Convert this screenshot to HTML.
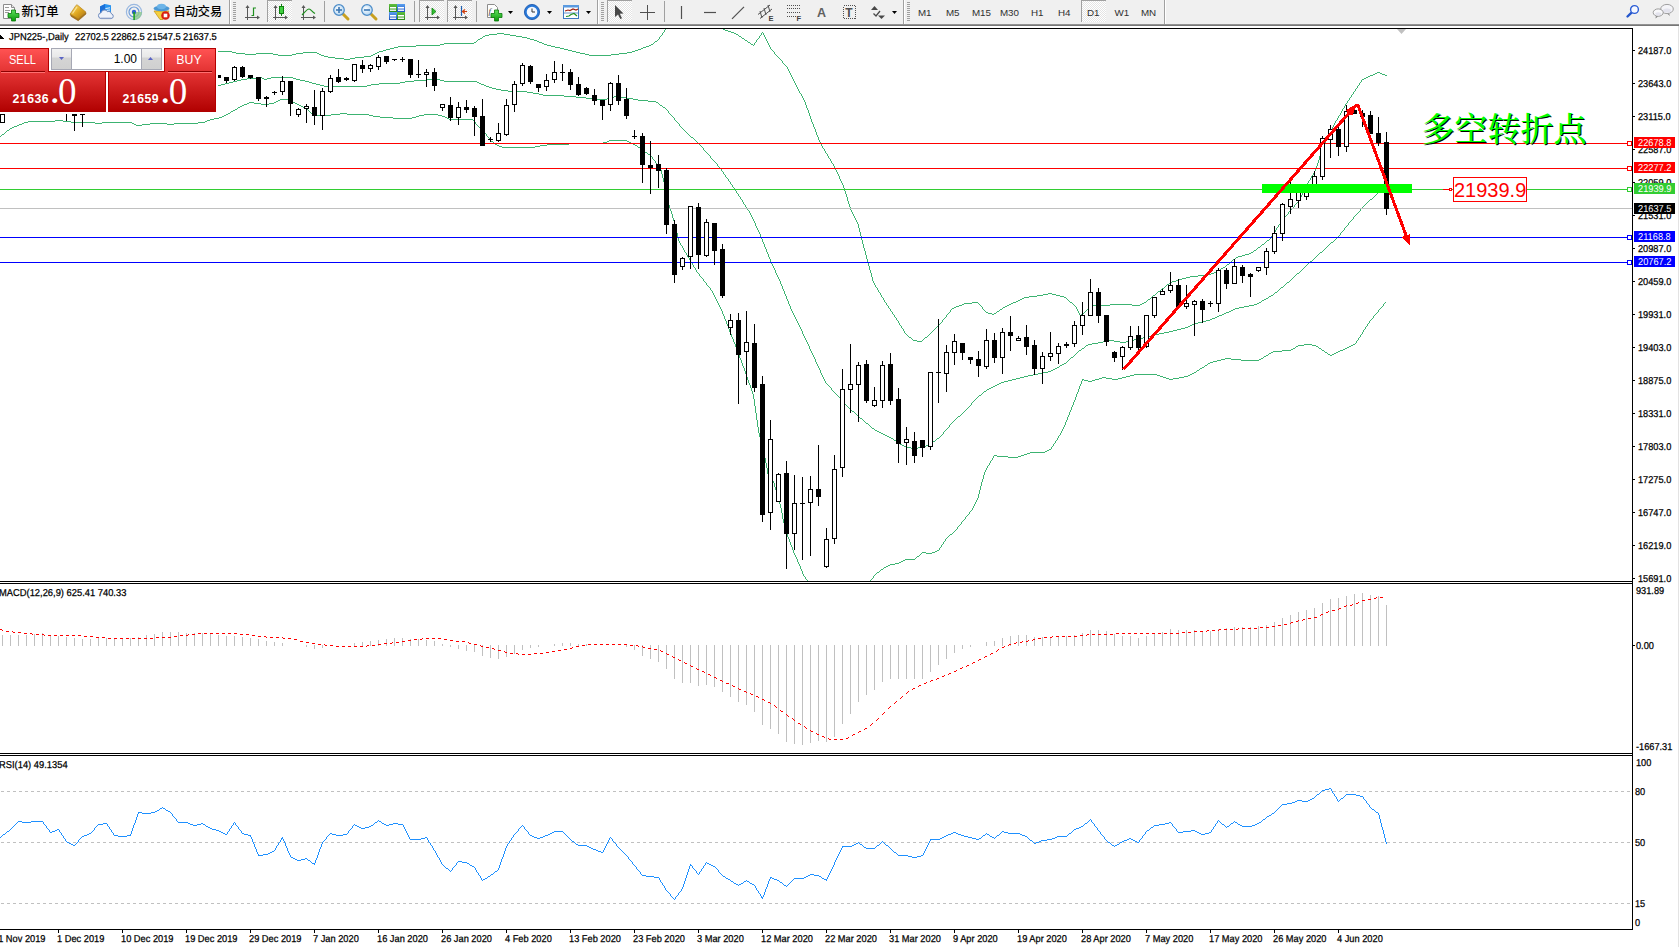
<!DOCTYPE html><html><head><meta charset="utf-8"><title>JPN225-,Daily</title><style>
html,body{margin:0;padding:0;background:#fff;}
body{width:1679px;height:947px;overflow:hidden;position:relative;font-family:"Liberation Sans","Noto Sans CJK SC",sans-serif;}
#tb{position:absolute;left:0;top:0;width:1679px;height:26px;background:#f0f0f0;}
#tb .ln{position:absolute;left:0;top:24px;width:1679px;height:2px;background:linear-gradient(#a0a0a0,#696969);}
.t{position:absolute;white-space:nowrap;font-size:10px;line-height:12px;color:#000;transform:scaleX(0.935);transform-origin:0 0;text-rendering:geometricPrecision;-webkit-text-stroke:0.25px #000;}
.ax{position:absolute;white-space:nowrap;font-size:10px;line-height:12px;height:12px;color:#000;letter-spacing:0px;transform:scaleX(0.92);transform-origin:0 0;text-rendering:geometricPrecision;-webkit-text-stroke:0.25px #000;}
.tag{position:absolute;left:1634px;width:41px;height:11px;color:#fff;font-size:10px;line-height:12px;white-space:nowrap;overflow:hidden;text-rendering:geometricPrecision;}
.tag span{position:absolute;left:4px;top:1px;display:block;transform:scaleX(0.925);transform-origin:0 0;}
.tf{position:absolute;top:5px;font-size:10.5px;line-height:14px;color:#3c3c3c;white-space:nowrap;}
.cn{position:absolute;top:2px;font-size:12px;line-height:16px;color:#000;white-space:nowrap;font-family:"Liberation Sans","WenQuanYi Zen Hei","Noto Sans CJK SC",sans-serif;}
.sep{position:absolute;top:1px;width:1px;height:21px;background:#a0a0a0;}
.grip{position:absolute;top:2px;width:3px;height:19px;background:repeating-linear-gradient(#a8a8a8 0,#a8a8a8 1px,transparent 1px,transparent 2px);}
.pb{position:absolute;top:0;height:22px;width:25px;background:#f8f8f8;border-left:1px solid #a0a0a0;border-top:1px solid #a0a0a0;box-sizing:border-box;}
</style></head><body>
<svg width="1679" height="947" viewBox="0 0 1679 947" style="position:absolute;left:0;top:0" shape-rendering="crispEdges">
<defs><clipPath id="cm"><rect x="0" y="29" width="1632" height="552"/></clipPath><clipPath id="c2"><rect x="0" y="584" width="1632" height="169"/></clipPath><clipPath id="c3"><rect x="0" y="756" width="1632" height="173"/></clipPath></defs>
<rect x="0" y="26" width="1678" height="921" fill="#fff"/>
<rect x="0" y="28" width="1633" height="1" fill="#000"/>
<rect x="1632" y="28" width="1" height="902" fill="#000"/>
<rect x="0" y="581" width="1633" height="1" fill="#000"/><rect x="0" y="583" width="1633" height="1" fill="#000"/>
<rect x="0" y="753" width="1633" height="1" fill="#000"/><rect x="0" y="755" width="1633" height="1" fill="#000"/>
<rect x="0" y="929" width="1633" height="1" fill="#000"/>
<rect x="1678" y="26" width="1" height="921" fill="#e3e3e3"/>
<path d="M0 52h110v1h-110zM232 52h4v1h-4zM303 52h14v1h-14zM377 52h2v1h-2zM576 52h4v1h-4zM627 52h5v1h-5zM110 51h122v1h-122zM379 51h4v1h-4zM572 51h4v1h-4zM632 51h3v1h-3zM236 53h9v1h-9zM256 53h17v1h-17zM296 53h7v1h-7zM317 53h2v1h-2zM375 53h2v1h-2zM580 53h5v1h-5zM619 53h8v1h-8zM245 54h11v1h-11zM273 54h5v1h-5zM292 54h4v1h-4zM319 54h2v1h-2zM373 54h2v1h-2zM585 54h4v1h-4zM611 54h8v1h-8zM278 55h14v1h-14zM321 55h3v1h-3zM371 55h2v1h-2zM589 55h22v1h-22zM324 56h4v1h-4zM364 56h7v1h-7zM328 57h7v1h-7zM355 57h9v1h-9zM335 58h9v1h-9zM350 58h5v1h-5zM344 59h6v1h-6zM383 50h3v1h-3zM568 50h4v1h-4zM635 50h3v1h-3zM386 49h4v1h-4zM564 49h4v1h-4zM638 49h3v1h-3zM390 48h4v1h-4zM560 48h4v1h-4zM641 48h2v1h-2zM394 47h4v1h-4zM555 47h5v1h-5zM643 47h3v1h-3zM398 46h18v1h-18zM551 46h4v1h-4zM646 46h3v1h-3zM416 45h24v1h-24zM547 45h4v1h-4zM649 45h2v1h-2zM440 44h4v1h-4zM544 44h3v1h-3zM651 44h2v1h-2zM751 44h2v1h-2zM444 43h30v1h-30zM542 43h2v1h-2zM474 42h2v1h-2zM539 42h3v1h-3zM748 42h2v1h-2zM537 41h2v1h-2zM655 41h2v1h-2zM534 40h3v1h-3zM745 40h2v1h-2zM478 39h2v1h-2zM530 39h4v1h-4zM480 38h2v1h-2zM527 38h3v1h-3zM742 38h2v1h-2zM522 37h5v1h-5zM483 36h2v1h-2zM516 36h6v1h-6zM739 36h2v1h-2zM485 35h4v1h-4zM510 35h6v1h-6zM489 34h8v1h-8zM504 34h6v1h-6zM736 34h2v1h-2zM497 33h7v1h-7zM734 33h2v1h-2zM731 32h3v1h-3zM728 31h3v1h-3zM725 30h3v1h-3zM723 29h2v1h-2zM1377 72h3v1h-3zM1375 73h2v1h-2zM1380 73h2v1h-2zM1373 74h2v1h-2zM1382 74h3v1h-3zM1370 75h3v1h-3zM1385 75h2v1h-2zM1368 76h2v1h-2zM256 77h6v1h-6zM271 77h22v1h-22zM1366 77h2v1h-2zM247 78h9v1h-9zM262 78h2v1h-2zM267 78h4v1h-4zM293 78h3v1h-3zM1364 78h2v1h-2zM241 79h6v1h-6zM264 79h3v1h-3zM296 79h4v1h-4zM426 79h14v1h-14zM1362 79h2v1h-2zM237 80h4v1h-4zM300 80h5v1h-5zM414 80h12v1h-12zM440 80h4v1h-4zM233 81h4v1h-4zM305 81h4v1h-4zM405 81h9v1h-9zM444 81h33v1h-33zM229 82h4v1h-4zM309 82h3v1h-3zM400 82h5v1h-5zM477 82h2v1h-2zM225 83h4v1h-4zM312 83h4v1h-4zM379 83h21v1h-21zM479 83h2v1h-2zM221 84h4v1h-4zM316 84h4v1h-4zM371 84h8v1h-8zM481 84h3v1h-3zM203 85h18v1h-18zM320 85h4v1h-4zM367 85h4v1h-4zM484 85h2v1h-2zM172 86h31v1h-31zM324 86h43v1h-43zM486 86h3v1h-3zM141 87h31v1h-31zM489 87h3v1h-3zM110 88h31v1h-31zM492 88h4v1h-4zM78 89h32v1h-32zM496 89h5v1h-5zM47 90h31v1h-31zM501 90h7v1h-7zM16 91h31v1h-31zM508 91h19v1h-19zM0 92h16v1h-16zM527 92h6v1h-6zM533 93h6v1h-6zM539 94h4v1h-4zM543 95h21v1h-21zM564 96h12v1h-12zM614 96h5v1h-5zM576 97h10v1h-10zM611 97h3v1h-3zM619 97h7v1h-7zM586 98h6v1h-6zM607 98h4v1h-4zM626 98h7v1h-7zM280 99h8v1h-8zM592 99h15v1h-15zM633 99h5v1h-5zM278 100h2v1h-2zM288 100h3v1h-3zM638 100h10v1h-10zM276 101h2v1h-2zM291 101h2v1h-2zM648 101h8v1h-8zM249 102h5v1h-5zM274 102h2v1h-2zM293 102h2v1h-2zM656 102h2v1h-2zM247 103h2v1h-2zM254 103h7v1h-7zM269 103h5v1h-5zM295 103h2v1h-2zM244 104h3v1h-3zM261 104h8v1h-8zM297 104h2v1h-2zM242 105h2v1h-2zM299 105h2v1h-2zM660 105h2v1h-2zM240 106h2v1h-2zM301 106h2v1h-2zM238 107h2v1h-2zM303 107h2v1h-2zM663 107h2v1h-2zM305 108h2v1h-2zM235 109h2v1h-2zM233 110h2v1h-2zM231 111h2v1h-2zM228 113h2v1h-2zM340 113h7v1h-7zM226 114h2v1h-2zM331 114h9v1h-9zM347 114h22v1h-22zM424 114h14v1h-14zM224 115h2v1h-2zM313 115h18v1h-18zM369 115h4v1h-4zM419 115h5v1h-5zM438 115h4v1h-4zM222 116h2v1h-2zM373 116h7v1h-7zM416 116h3v1h-3zM442 116h3v1h-3zM219 117h3v1h-3zM380 117h13v1h-13zM412 117h4v1h-4zM445 117h2v1h-2zM214 118h5v1h-5zM393 118h19v1h-19zM447 118h2v1h-2zM210 119h4v1h-4zM449 119h24v1h-24zM55 120h8v1h-8zM207 120h3v1h-3zM28 121h27v1h-27zM63 121h8v1h-8zM205 121h2v1h-2zM24 122h4v1h-4zM71 122h24v1h-24zM102 122h30v1h-30zM198 122h7v1h-7zM22 123h2v1h-2zM95 123h7v1h-7zM132 123h2v1h-2zM150 123h17v1h-17zM174 123h24v1h-24zM19 124h3v1h-3zM134 124h2v1h-2zM142 124h8v1h-8zM167 124h7v1h-7zM17 125h2v1h-2zM136 125h6v1h-6zM14 126h3v1h-3zM12 127h2v1h-2zM10 128h2v1h-2zM7 130h2v1h-2zM2 134h2v1h-2zM691 137h2v1h-2zM609 140h18v1h-18zM491 141h2v1h-2zM607 141h2v1h-2zM627 141h2v1h-2zM603 142h4v1h-4zM629 142h2v1h-2zM569 143h34v1h-34zM631 143h2v1h-2zM495 144h2v1h-2zM547 144h22v1h-22zM633 144h2v1h-2zM497 145h2v1h-2zM540 145h7v1h-7zM635 145h2v1h-2zM499 146h3v1h-3zM535 146h5v1h-5zM502 147h33v1h-33zM638 147h2v1h-2zM641 149h2v1h-2zM645 152h2v1h-2zM648 154h2v1h-2zM1383 188h2v1h-2zM1379 191h2v1h-2zM1370 199h2v1h-2zM1267 240h2v1h-2zM1331 242h2v1h-2zM1262 244h2v1h-2zM1258 247h2v1h-2zM1254 250h2v1h-2zM1251 252h2v1h-2zM1320 252h2v1h-2zM1249 253h2v1h-2zM1245 254h4v1h-4zM1242 255h3v1h-3zM1238 256h4v1h-4zM1236 257h2v1h-2zM1233 259h2v1h-2zM1310 261h2v1h-2zM1227 264h2v1h-2zM1223 267h2v1h-2zM1221 268h2v1h-2zM1218 270h2v1h-2zM1216 271h2v1h-2zM1214 272h2v1h-2zM1211 273h3v1h-3zM1297 273h2v1h-2zM1206 274h5v1h-5zM1198 275h8v1h-8zM1190 276h8v1h-8zM1186 277h4v1h-4zM1182 278h4v1h-4zM1179 279h3v1h-3zM1176 280h3v1h-3zM1172 281h4v1h-4zM1170 282h2v1h-2zM1287 282h2v1h-2zM1167 284h2v1h-2zM1281 287h2v1h-2zM1162 288h2v1h-2zM1158 291h2v1h-2zM1275 292h2v1h-2zM1048 293h4v1h-4zM1043 294h5v1h-5zM1052 294h4v1h-4zM1037 295h6v1h-6zM1056 295h4v1h-4zM1153 295h2v1h-2zM1271 295h2v1h-2zM1029 296h8v1h-8zM1060 296h4v1h-4zM1269 296h2v1h-2zM1024 297h5v1h-5zM1064 297h2v1h-2zM1022 298h2v1h-2zM1266 298h2v1h-2zM1020 299h2v1h-2zM1148 299h2v1h-2zM1264 299h2v1h-2zM1018 300h2v1h-2zM1262 300h2v1h-2zM1016 301h2v1h-2zM972 302h6v1h-6zM1013 302h3v1h-3zM1070 302h2v1h-2zM1144 302h2v1h-2zM1259 302h2v1h-2zM964 303h8v1h-8zM1011 303h2v1h-2zM1142 303h2v1h-2zM1257 303h2v1h-2zM962 304h2v1h-2zM1009 304h2v1h-2zM1110 304h22v1h-22zM1140 304h2v1h-2zM1254 304h3v1h-3zM959 305h3v1h-3zM1007 305h2v1h-2zM1093 305h17v1h-17zM1132 305h8v1h-8zM1249 305h5v1h-5zM956 306h3v1h-3zM1005 306h2v1h-2zM1091 306h2v1h-2zM1244 306h5v1h-5zM954 307h2v1h-2zM1003 307h2v1h-2zM1239 307h5v1h-5zM952 308h2v1h-2zM1235 308h4v1h-4zM1000 309h2v1h-2zM1087 309h2v1h-2zM1233 309h2v1h-2zM1231 310h2v1h-2zM997 311h2v1h-2zM1229 311h2v1h-2zM986 312h2v1h-2zM1226 312h3v1h-3zM988 313h4v1h-4zM994 313h2v1h-2zM1082 313h2v1h-2zM1224 313h2v1h-2zM992 314h2v1h-2zM1222 314h2v1h-2zM1219 315h3v1h-3zM1217 316h2v1h-2zM1215 317h2v1h-2zM1212 318h3v1h-3zM1210 319h2v1h-2zM1206 320h4v1h-4zM1202 321h4v1h-4zM1198 322h4v1h-4zM1194 323h4v1h-4zM1192 324h2v1h-2zM1190 325h2v1h-2zM1188 326h2v1h-2zM1185 327h3v1h-3zM1181 328h4v1h-4zM1177 329h4v1h-4zM1173 330h4v1h-4zM1169 331h4v1h-4zM1164 332h5v1h-5zM1159 333h5v1h-5zM1155 334h4v1h-4zM1151 335h4v1h-4zM1147 336h4v1h-4zM909 337h2v1h-2zM925 337h2v1h-2zM1143 337h4v1h-4zM1139 338h4v1h-4zM1134 339h5v1h-5zM913 340h4v1h-4zM1109 340h5v1h-5zM1130 340h4v1h-4zM917 341h5v1h-5zM1103 341h6v1h-6zM1114 341h6v1h-6zM1126 341h4v1h-4zM1098 342h5v1h-5zM1120 342h6v1h-6zM1092 343h6v1h-6zM1088 344h4v1h-4zM1304 344h8v1h-8zM1353 344h2v1h-2zM1086 345h2v1h-2zM1298 345h6v1h-6zM1312 345h4v1h-4zM1351 345h2v1h-2zM1296 346h2v1h-2zM1316 346h2v1h-2zM1349 346h2v1h-2zM1347 347h2v1h-2zM1082 348h2v1h-2zM1293 348h2v1h-2zM1319 348h2v1h-2zM1345 348h2v1h-2zM1291 349h2v1h-2zM1343 349h2v1h-2zM1079 350h2v1h-2zM1282 350h9v1h-9zM1322 350h2v1h-2zM1340 350h3v1h-3zM1273 351h9v1h-9zM1338 351h2v1h-2zM1271 352h2v1h-2zM1325 352h2v1h-2zM1336 352h2v1h-2zM1269 353h2v1h-2zM1334 353h2v1h-2zM1328 354h2v1h-2zM1332 354h2v1h-2zM1266 355h2v1h-2zM1330 355h2v1h-2zM1264 356h2v1h-2zM1071 357h2v1h-2zM1225 358h6v1h-6zM1261 358h2v1h-2zM1221 359h4v1h-4zM1231 359h10v1h-10zM1259 359h2v1h-2zM1217 360h4v1h-4zM1241 360h18v1h-18zM1213 361h4v1h-4zM1210 362h3v1h-3zM1064 363h2v1h-2zM1208 363h2v1h-2zM1062 364h2v1h-2zM1060 365h2v1h-2zM1205 365h2v1h-2zM1057 367h2v1h-2zM1202 367h2v1h-2zM1055 368h2v1h-2zM1200 368h2v1h-2zM1053 369h2v1h-2zM1051 370h2v1h-2zM1197 370h2v1h-2zM1048 371h3v1h-3zM1043 372h5v1h-5zM1194 372h2v1h-2zM1038 373h5v1h-5zM1192 373h2v1h-2zM1033 374h5v1h-5zM1134 374h23v1h-23zM1190 374h2v1h-2zM1028 375h5v1h-5zM1130 375h4v1h-4zM1157 375h3v1h-3zM1188 375h2v1h-2zM1024 376h4v1h-4zM1126 376h4v1h-4zM1160 376h3v1h-3zM1184 376h4v1h-4zM1020 377h4v1h-4zM1102 377h4v1h-4zM1122 377h4v1h-4zM1163 377h3v1h-3zM1179 377h5v1h-5zM1016 378h4v1h-4zM1099 378h3v1h-3zM1106 378h6v1h-6zM1118 378h4v1h-4zM1166 378h3v1h-3zM1173 378h6v1h-6zM1012 379h4v1h-4zM1082 379h2v1h-2zM1095 379h4v1h-4zM1112 379h6v1h-6zM1169 379h4v1h-4zM1008 380h4v1h-4zM1084 380h4v1h-4zM1092 380h3v1h-3zM1004 381h4v1h-4zM1088 381h4v1h-4zM1001 382h3v1h-3zM999 383h2v1h-2zM997 384h2v1h-2zM995 385h2v1h-2zM993 386h2v1h-2zM991 387h2v1h-2zM989 388h2v1h-2zM987 389h2v1h-2zM984 391h2v1h-2zM979 395h2v1h-2zM852 411h2v1h-2zM958 416h2v1h-2zM860 418h2v1h-2zM866 423h2v1h-2zM872 428h2v1h-2zM875 430h2v1h-2zM877 431h2v1h-2zM879 432h2v1h-2zM881 433h2v1h-2zM883 434h2v1h-2zM885 435h2v1h-2zM887 436h2v1h-2zM889 437h2v1h-2zM891 438h2v1h-2zM937 438h2v1h-2zM894 440h2v1h-2zM933 441h2v1h-2zM897 442h2v1h-2zM930 443h2v1h-2zM900 444h2v1h-2zM928 444h2v1h-2zM902 445h2v1h-2zM926 445h2v1h-2zM904 446h3v1h-3zM924 446h2v1h-2zM907 447h4v1h-4zM918 447h6v1h-6zM911 448h7v1h-7zM1049 449h2v1h-2zM1047 450h2v1h-2zM1045 451h2v1h-2zM1030 452h15v1h-15zM1027 453h3v1h-3zM1024 454h3v1h-3zM994 455h3v1h-3zM1021 455h3v1h-3zM997 456h11v1h-11zM1018 456h3v1h-3zM1008 457h10v1h-10zM950 534h2v1h-2zM937 550h2v1h-2zM935 551h2v1h-2zM922 552h4v1h-4zM932 552h3v1h-3zM926 553h6v1h-6zM917 556h2v1h-2zM905 559h10v1h-10zM903 560h2v1h-2zM901 561h2v1h-2zM899 562h2v1h-2zM895 563h4v1h-4zM890 564h5v1h-5zM888 565h2v1h-2zM886 566h2v1h-2zM884 567h2v1h-2zM881 569h2v1h-2zM877 572h2v1h-2zM774 52h1v2h-1zM774 268h1v2h-1zM774 483h1v4h-1zM773 51h1v1h-1zM773 266h1v2h-1zM773 481h1v2h-1zM775 54h1v1h-1zM775 270h1v3h-1zM775 487h1v3h-1zM776 55h1v1h-1zM776 273h1v2h-1zM776 490h1v3h-1zM777 56h1v1h-1zM777 275h1v2h-1zM777 493h1v4h-1zM778 57h1v1h-1zM778 277h1v2h-1zM778 497h1v3h-1zM779 58h1v1h-1zM779 279h1v2h-1zM779 500h1v4h-1zM780 59h1v1h-1zM780 281h1v3h-1zM780 504h1v4h-1zM772 50h1v1h-1zM772 264h1v2h-1zM772 480h1v1h-1zM771 49h1v1h-1zM771 262h1v2h-1zM771 479h1v1h-1zM770 47h1v2h-1zM770 259h1v3h-1zM770 478h1v1h-1zM769 45h1v2h-1zM769 257h1v2h-1zM769 477h1v1h-1zM753 45h1v1h-1zM753 219h1v2h-1zM753 394h1v5h-1zM754 43h1v2h-1zM754 221h1v2h-1zM754 399h1v7h-1zM768 43h1v2h-1zM768 254h1v3h-1zM768 474h1v3h-1zM653 43h1v1h-1zM653 159h1v1h-1zM750 43h1v1h-1zM750 213h1v2h-1zM750 385h1v3h-1zM654 42h1v1h-1zM654 160h1v1h-1zM755 42h1v1h-1zM755 223h1v3h-1zM755 406h1v7h-1zM767 41h1v2h-1zM767 252h1v2h-1zM767 468h1v6h-1zM476 41h1v1h-1zM476 124h1v1h-1zM747 41h1v1h-1zM747 208h1v2h-1zM747 377h1v3h-1zM756 40h1v2h-1zM756 226h1v2h-1zM756 413h1v7h-1zM477 40h1v1h-1zM477 125h1v1h-1zM657 40h1v1h-1zM657 164h1v1h-1zM766 39h1v2h-1zM766 249h1v3h-1zM766 463h1v5h-1zM658 39h1v1h-1zM658 103h1v1h-1zM658 165h1v2h-1zM744 39h1v1h-1zM744 204h1v1h-1zM744 368h1v3h-1zM757 39h1v1h-1zM757 228h1v2h-1zM757 420h1v7h-1zM659 37h1v2h-1zM659 104h1v1h-1zM659 167h1v1h-1zM758 38h1v1h-1zM758 230h1v2h-1zM758 427h1v6h-1zM765 37h1v2h-1zM765 247h1v2h-1zM765 458h1v5h-1zM482 37h1v1h-1zM482 130h1v1h-1zM741 37h1v1h-1zM741 199h1v1h-1zM741 360h1v3h-1zM759 36h1v2h-1zM759 232h1v2h-1zM759 433h1v4h-1zM660 36h1v1h-1zM660 168h1v2h-1zM764 35h1v2h-1zM764 244h1v3h-1zM764 454h1v4h-1zM661 35h1v1h-1zM661 170h1v4h-1zM738 35h1v1h-1zM738 194h1v2h-1zM738 352h1v3h-1zM760 35h1v1h-1zM760 234h1v3h-1zM760 437h1v4h-1zM662 33h1v2h-1zM662 106h1v1h-1zM662 174h1v4h-1zM761 33h1v2h-1zM761 237h1v2h-1zM761 441h1v4h-1zM763 33h1v2h-1zM763 242h1v2h-1zM763 450h1v4h-1zM663 32h1v1h-1zM663 178h1v4h-1zM762 32h1v1h-1zM762 239h1v3h-1zM762 445h1v5h-1zM664 30h1v2h-1zM664 182h1v4h-1zM665 29h1v1h-1zM665 108h1v1h-1zM665 186h1v5h-1zM781 60h1v1h-1zM781 284h1v2h-1zM781 508h1v5h-1zM782 61h1v2h-1zM782 286h1v3h-1zM782 513h1v6h-1zM783 63h1v1h-1zM783 289h1v2h-1zM783 519h1v4h-1zM784 64h1v1h-1zM784 291h1v3h-1zM784 523h1v4h-1zM785 65h1v1h-1zM785 294h1v2h-1zM785 527h1v3h-1zM786 66h1v1h-1zM786 296h1v3h-1zM786 530h1v4h-1zM787 67h1v2h-1zM787 299h1v2h-1zM787 534h1v3h-1zM788 69h1v2h-1zM788 301h1v3h-1zM788 537h1v2h-1zM789 71h1v2h-1zM789 304h1v2h-1zM789 539h1v3h-1zM790 73h1v2h-1zM790 306h1v3h-1zM790 542h1v3h-1zM791 75h1v2h-1zM791 309h1v2h-1zM791 545h1v2h-1zM792 77h1v2h-1zM792 311h1v2h-1zM792 547h1v3h-1zM793 79h1v2h-1zM793 313h1v2h-1zM793 550h1v3h-1zM1361 80h1v2h-1zM1361 208h1v1h-1zM1361 334h1v1h-1zM794 81h1v2h-1zM794 315h1v2h-1zM794 553h1v2h-1zM1360 82h1v1h-1zM1360 209h1v2h-1zM1360 335h1v2h-1zM795 83h1v2h-1zM795 317h1v2h-1zM795 555h1v2h-1zM1359 83h1v2h-1zM1359 211h1v1h-1zM1359 337h1v1h-1zM796 85h1v2h-1zM796 319h1v2h-1zM796 557h1v2h-1zM1358 85h1v1h-1zM1358 212h1v1h-1zM1358 338h1v2h-1zM1357 86h1v2h-1zM1357 213h1v1h-1zM1357 340h1v1h-1zM797 87h1v2h-1zM797 321h1v2h-1zM797 559h1v3h-1zM1356 88h1v1h-1zM1356 214h1v1h-1zM1356 341h1v2h-1zM798 89h1v2h-1zM798 323h1v2h-1zM798 562h1v2h-1zM1355 89h1v2h-1zM1355 215h1v1h-1zM1355 343h1v1h-1zM799 91h1v2h-1zM799 325h1v2h-1zM799 564h1v2h-1zM1354 91h1v1h-1zM1354 216h1v1h-1zM1353 92h1v2h-1zM1353 217h1v2h-1zM800 93h1v1h-1zM800 327h1v2h-1zM800 566h1v3h-1zM801 94h1v2h-1zM801 329h1v2h-1zM801 569h1v2h-1zM1352 94h1v1h-1zM1352 219h1v1h-1zM1351 95h1v2h-1zM1351 220h1v1h-1zM802 96h1v2h-1zM802 331h1v3h-1zM802 571h1v3h-1zM1350 97h1v1h-1zM1350 221h1v1h-1zM803 98h1v2h-1zM803 334h1v2h-1zM803 574h1v2h-1zM1349 98h1v2h-1zM1349 222h1v1h-1zM804 100h1v2h-1zM804 336h1v2h-1zM804 576h1v1h-1zM1348 100h1v1h-1zM1348 223h1v2h-1zM1347 101h1v2h-1zM1347 225h1v1h-1zM805 102h1v3h-1zM805 338h1v2h-1zM805 577h1v2h-1zM1346 103h1v1h-1zM1346 226h1v1h-1zM1345 104h1v2h-1zM1345 227h1v1h-1zM806 105h1v3h-1zM806 340h1v2h-1zM806 579h1v1h-1zM1344 106h1v2h-1zM1344 228h1v2h-1zM237 108h1v1h-1zM807 108h1v2h-1zM807 342h1v2h-1zM807 580h1v1h-1zM1343 108h1v1h-1zM1343 230h1v1h-1zM307 109h1v1h-1zM666 109h1v1h-1zM666 191h1v5h-1zM1342 109h1v2h-1zM1342 231h1v1h-1zM308 110h1v1h-1zM667 110h1v1h-1zM667 196h1v5h-1zM808 110h1v3h-1zM808 344h1v2h-1zM309 111h1v1h-1zM668 111h1v2h-1zM668 201h1v4h-1zM1341 111h1v2h-1zM1341 232h1v1h-1zM230 112h1v1h-1zM310 112h1v1h-1zM311 113h1v1h-1zM669 113h1v1h-1zM669 205h1v3h-1zM809 113h1v3h-1zM809 346h1v3h-1zM1340 113h1v2h-1zM1340 233h1v2h-1zM312 114h1v1h-1zM670 114h1v1h-1zM670 208h1v3h-1zM671 115h1v1h-1zM671 211h1v3h-1zM1339 115h1v1h-1zM1339 235h1v1h-1zM672 116h1v1h-1zM672 214h1v4h-1zM810 116h1v3h-1zM810 349h1v2h-1zM1338 116h1v2h-1zM1338 236h1v1h-1zM673 117h1v1h-1zM673 218h1v3h-1zM674 118h1v2h-1zM674 221h1v3h-1zM1337 118h1v2h-1zM1337 237h1v1h-1zM811 119h1v3h-1zM811 351h1v2h-1zM473 120h1v1h-1zM675 120h1v1h-1zM675 224h1v4h-1zM1336 120h1v1h-1zM1336 238h1v1h-1zM474 121h1v1h-1zM676 121h1v1h-1zM676 228h1v5h-1zM1335 121h1v2h-1zM1335 239h1v1h-1zM475 122h1v2h-1zM677 122h1v1h-1zM677 233h1v5h-1zM812 122h1v2h-1zM812 353h1v2h-1zM678 123h1v1h-1zM678 238h1v3h-1zM1334 123h1v2h-1zM1334 240h1v1h-1zM679 124h1v2h-1zM679 241h1v2h-1zM813 124h1v3h-1zM813 355h1v2h-1zM1333 125h1v2h-1zM1333 241h1v1h-1zM478 126h1v1h-1zM680 126h1v1h-1zM680 243h1v2h-1zM479 127h1v1h-1zM681 127h1v1h-1zM681 245h1v1h-1zM814 127h1v2h-1zM814 357h1v2h-1zM1332 127h1v2h-1zM480 128h1v1h-1zM682 128h1v1h-1zM682 246h1v2h-1zM9 129h1v1h-1zM481 129h1v1h-1zM683 129h1v1h-1zM683 248h1v2h-1zM815 129h1v3h-1zM815 359h1v3h-1zM1331 129h1v2h-1zM684 130h1v1h-1zM684 250h1v2h-1zM6 131h1v1h-1zM483 131h1v1h-1zM685 131h1v1h-1zM685 252h1v1h-1zM1330 131h1v2h-1zM1330 243h1v1h-1zM5 132h1v1h-1zM484 132h1v1h-1zM686 132h1v1h-1zM686 253h1v2h-1zM816 132h1v3h-1zM816 362h1v2h-1zM4 133h1v1h-1zM485 133h1v1h-1zM687 133h1v1h-1zM687 255h1v2h-1zM1329 133h1v2h-1zM1329 244h1v1h-1zM486 134h1v2h-1zM688 134h1v1h-1zM688 257h1v1h-1zM1 135h1v1h-1zM689 135h1v1h-1zM689 258h1v2h-1zM817 135h1v2h-1zM817 364h1v2h-1zM1328 135h1v2h-1zM1328 245h1v1h-1zM0 136h1v1h-1zM487 136h1v1h-1zM690 136h1v1h-1zM690 260h1v2h-1zM488 137h1v1h-1zM818 137h1v3h-1zM818 366h1v2h-1zM1327 137h1v2h-1zM1327 246h1v1h-1zM1327 353h1v1h-1zM489 138h1v2h-1zM693 138h1v1h-1zM693 265h1v2h-1zM694 139h1v1h-1zM694 267h1v1h-1zM1326 139h1v2h-1zM1326 247h1v1h-1zM490 140h1v1h-1zM695 140h1v1h-1zM695 268h1v2h-1zM819 140h1v2h-1zM819 368h1v2h-1zM696 141h1v1h-1zM696 270h1v2h-1zM1325 141h1v2h-1zM1325 248h1v1h-1zM493 142h1v1h-1zM697 142h1v1h-1zM697 272h1v1h-1zM820 142h1v2h-1zM820 370h1v3h-1zM494 143h1v1h-1zM698 143h1v1h-1zM698 273h1v1h-1zM1324 143h1v2h-1zM1324 249h1v1h-1zM1324 351h1v1h-1zM699 144h1v1h-1zM699 274h1v2h-1zM821 144h1v2h-1zM821 373h1v2h-1zM700 145h1v1h-1zM700 276h1v1h-1zM1323 145h1v2h-1zM1323 250h1v1h-1zM637 146h1v1h-1zM701 146h1v1h-1zM701 277h1v1h-1zM822 146h1v2h-1zM822 375h1v2h-1zM702 147h1v1h-1zM702 278h1v1h-1zM1322 147h1v3h-1zM1322 251h1v1h-1zM640 148h1v1h-1zM703 148h1v2h-1zM703 279h1v2h-1zM823 148h1v1h-1zM823 377h1v2h-1zM824 149h1v2h-1zM824 379h1v2h-1zM643 150h1v1h-1zM704 150h1v1h-1zM704 281h1v1h-1zM1321 150h1v3h-1zM1321 349h1v1h-1zM644 151h1v1h-1zM705 151h1v1h-1zM705 282h1v1h-1zM825 151h1v2h-1zM825 381h1v2h-1zM706 152h1v1h-1zM706 283h1v2h-1zM647 153h1v1h-1zM707 153h1v1h-1zM707 285h1v1h-1zM826 153h1v1h-1zM826 383h1v1h-1zM1320 153h1v3h-1zM708 154h1v1h-1zM708 286h1v1h-1zM827 154h1v2h-1zM827 384h1v1h-1zM650 155h1v1h-1zM709 155h1v1h-1zM709 287h1v1h-1zM651 156h1v1h-1zM710 156h1v2h-1zM710 288h1v2h-1zM828 156h1v2h-1zM828 385h1v1h-1zM1319 156h1v4h-1zM1319 253h1v1h-1zM652 157h1v2h-1zM711 158h1v1h-1zM711 290h1v1h-1zM829 158h1v1h-1zM829 386h1v1h-1zM712 159h1v1h-1zM712 291h1v2h-1zM830 159h1v2h-1zM830 387h1v1h-1zM713 160h1v1h-1zM713 293h1v2h-1zM1318 160h1v3h-1zM1318 254h1v1h-1zM1318 347h1v1h-1zM655 161h1v2h-1zM714 161h1v1h-1zM714 295h1v2h-1zM831 161h1v2h-1zM831 388h1v2h-1zM715 162h1v1h-1zM715 297h1v2h-1zM656 163h1v1h-1zM716 163h1v1h-1zM716 299h1v2h-1zM832 163h1v1h-1zM832 390h1v1h-1zM1317 163h1v3h-1zM1317 255h1v1h-1zM717 164h1v2h-1zM717 301h1v2h-1zM833 164h1v2h-1zM833 391h1v1h-1zM718 166h1v1h-1zM718 303h1v2h-1zM834 166h1v2h-1zM834 392h1v1h-1zM1316 166h1v3h-1zM1316 256h1v1h-1zM719 167h1v1h-1zM719 305h1v2h-1zM720 168h1v1h-1zM720 307h1v2h-1zM835 168h1v2h-1zM835 393h1v1h-1zM721 169h1v2h-1zM721 309h1v2h-1zM1315 169h1v2h-1zM1315 257h1v1h-1zM836 170h1v2h-1zM836 394h1v1h-1zM722 171h1v1h-1zM722 311h1v3h-1zM1314 171h1v2h-1zM1314 258h1v1h-1zM723 172h1v2h-1zM723 314h1v2h-1zM837 172h1v2h-1zM837 395h1v1h-1zM1313 173h1v2h-1zM1313 259h1v1h-1zM724 174h1v1h-1zM724 316h1v3h-1zM838 174h1v2h-1zM838 396h1v1h-1zM725 175h1v2h-1zM725 319h1v2h-1zM1312 175h1v1h-1zM1312 260h1v1h-1zM839 176h1v3h-1zM839 397h1v1h-1zM1311 176h1v2h-1zM726 177h1v1h-1zM726 321h1v3h-1zM727 178h1v1h-1zM727 324h1v2h-1zM1310 178h1v2h-1zM728 179h1v2h-1zM728 326h1v3h-1zM840 179h1v2h-1zM840 398h1v1h-1zM1309 180h1v1h-1zM1309 262h1v1h-1zM729 181h1v1h-1zM729 329h1v3h-1zM841 181h1v2h-1zM841 399h1v1h-1zM1308 181h1v2h-1zM1308 263h1v1h-1zM730 182h1v2h-1zM730 332h1v2h-1zM842 183h1v2h-1zM842 400h1v2h-1zM1307 183h1v2h-1zM1307 264h1v1h-1zM731 184h1v1h-1zM731 334h1v3h-1zM732 185h1v2h-1zM732 337h1v2h-1zM843 185h1v3h-1zM843 402h1v1h-1zM1306 185h1v2h-1zM1306 265h1v1h-1zM1386 186h1v1h-1zM733 187h1v1h-1zM733 339h1v3h-1zM1305 187h1v2h-1zM1305 266h1v1h-1zM1385 187h1v1h-1zM1385 302h1v1h-1zM734 188h1v2h-1zM734 342h1v2h-1zM844 188h1v3h-1zM844 403h1v1h-1zM1304 189h1v2h-1zM1304 267h1v1h-1zM1382 189h1v1h-1zM1382 306h1v1h-1zM735 190h1v1h-1zM735 344h1v3h-1zM1381 190h1v1h-1zM1381 307h1v1h-1zM736 191h1v2h-1zM736 347h1v3h-1zM845 191h1v3h-1zM845 404h1v1h-1zM1303 191h1v2h-1zM1303 268h1v1h-1zM1378 192h1v1h-1zM1378 310h1v2h-1zM737 193h1v1h-1zM737 350h1v2h-1zM1302 193h1v2h-1zM1302 269h1v1h-1zM1377 193h1v1h-1zM1377 312h1v1h-1zM846 194h1v3h-1zM846 405h1v1h-1zM1376 194h1v1h-1zM1376 313h1v1h-1zM1301 195h1v2h-1zM1301 270h1v1h-1zM1375 195h1v1h-1zM1375 314h1v1h-1zM739 196h1v1h-1zM739 355h1v3h-1zM1374 196h1v1h-1zM1374 315h1v1h-1zM740 197h1v2h-1zM740 358h1v2h-1zM847 197h1v4h-1zM847 406h1v1h-1zM1300 197h1v2h-1zM1300 271h1v1h-1zM1373 197h1v1h-1zM1373 316h1v2h-1zM1372 198h1v1h-1zM1372 318h1v1h-1zM1299 199h1v2h-1zM1299 272h1v1h-1zM742 200h1v2h-1zM742 363h1v3h-1zM1369 200h1v1h-1zM1369 321h1v2h-1zM848 201h1v3h-1zM848 407h1v1h-1zM1298 201h1v1h-1zM1368 201h1v1h-1zM1368 323h1v1h-1zM743 202h1v2h-1zM743 366h1v2h-1zM1297 202h1v1h-1zM1367 202h1v1h-1zM1367 324h1v2h-1zM1296 203h1v1h-1zM1296 274h1v1h-1zM1366 203h1v1h-1zM1366 326h1v1h-1zM849 204h1v3h-1zM849 408h1v1h-1zM1295 204h1v1h-1zM1295 275h1v1h-1zM1295 347h1v1h-1zM1365 204h1v1h-1zM1365 327h1v2h-1zM745 205h1v2h-1zM745 371h1v3h-1zM1294 205h1v2h-1zM1294 276h1v1h-1zM1364 205h1v1h-1zM1364 329h1v1h-1zM1363 206h1v1h-1zM1363 330h1v2h-1zM746 207h1v1h-1zM746 374h1v3h-1zM850 207h1v3h-1zM850 409h1v1h-1zM1293 207h1v1h-1zM1293 277h1v1h-1zM1362 207h1v1h-1zM1362 332h1v2h-1zM1292 208h1v1h-1zM1292 278h1v1h-1zM1291 209h1v1h-1zM1291 279h1v1h-1zM748 210h1v1h-1zM748 380h1v3h-1zM851 210h1v2h-1zM851 410h1v1h-1zM1290 210h1v1h-1zM1290 280h1v1h-1zM749 211h1v2h-1zM749 383h1v2h-1zM1289 211h1v1h-1zM1289 281h1v1h-1zM852 212h1v2h-1zM1288 212h1v2h-1zM853 214h1v2h-1zM1287 214h1v1h-1zM751 215h1v2h-1zM751 388h1v3h-1zM1286 215h1v1h-1zM1286 283h1v1h-1zM854 216h1v2h-1zM854 412h1v1h-1zM1285 216h1v1h-1zM1285 284h1v1h-1zM752 217h1v2h-1zM752 391h1v3h-1zM1284 217h1v1h-1zM1284 285h1v1h-1zM855 218h1v2h-1zM855 413h1v1h-1zM1283 218h1v2h-1zM1283 286h1v1h-1zM856 220h1v2h-1zM856 414h1v1h-1zM1282 220h1v1h-1zM1281 221h1v1h-1zM857 222h1v2h-1zM857 415h1v1h-1zM1280 222h1v2h-1zM1280 288h1v1h-1zM858 224h1v4h-1zM858 416h1v1h-1zM1279 224h1v1h-1zM1279 289h1v1h-1zM1278 225h1v2h-1zM1278 290h1v1h-1zM1277 227h1v1h-1zM1277 291h1v1h-1zM859 228h1v4h-1zM859 417h1v1h-1zM1276 228h1v2h-1zM1275 230h1v2h-1zM860 232h1v4h-1zM1274 232h1v1h-1zM1274 293h1v1h-1zM1273 233h1v2h-1zM1273 294h1v1h-1zM1272 235h1v1h-1zM861 236h1v4h-1zM1271 236h1v2h-1zM1270 238h1v1h-1zM1269 239h1v1h-1zM862 240h1v4h-1zM862 419h1v1h-1zM1266 241h1v1h-1zM1265 242h1v1h-1zM1264 243h1v1h-1zM863 244h1v4h-1zM863 420h1v1h-1zM1261 245h1v1h-1zM1261 301h1v1h-1zM1260 246h1v1h-1zM864 248h1v3h-1zM864 421h1v1h-1zM1257 248h1v1h-1zM1256 249h1v1h-1zM865 251h1v4h-1zM865 422h1v1h-1zM1253 251h1v1h-1zM866 255h1v4h-1zM1235 258h1v1h-1zM867 259h1v3h-1zM1232 260h1v1h-1zM1231 261h1v1h-1zM691 262h1v1h-1zM868 262h1v4h-1zM868 424h1v1h-1zM1230 262h1v1h-1zM692 263h1v2h-1zM1229 263h1v1h-1zM1226 265h1v1h-1zM869 266h1v4h-1zM869 425h1v1h-1zM1225 266h1v1h-1zM1220 269h1v1h-1zM870 270h1v3h-1zM870 426h1v1h-1zM870 580h1v1h-1zM871 273h1v4h-1zM871 427h1v1h-1zM871 579h1v1h-1zM872 277h1v4h-1zM872 578h1v1h-1zM873 281h1v2h-1zM873 576h1v2h-1zM874 283h1v2h-1zM874 429h1v1h-1zM874 575h1v1h-1zM1169 283h1v1h-1zM875 285h1v2h-1zM875 574h1v1h-1zM1166 285h1v1h-1zM1165 286h1v1h-1zM876 287h1v1h-1zM876 573h1v1h-1zM1164 287h1v1h-1zM877 288h1v2h-1zM1161 289h1v1h-1zM878 290h1v2h-1zM1160 290h1v1h-1zM879 292h1v1h-1zM879 571h1v1h-1zM1157 292h1v1h-1zM880 293h1v2h-1zM880 570h1v1h-1zM1156 293h1v1h-1zM1155 294h1v1h-1zM881 295h1v2h-1zM1152 296h1v1h-1zM882 297h1v1h-1zM1151 297h1v1h-1zM1268 297h1v1h-1zM1268 354h1v1h-1zM883 298h1v2h-1zM883 568h1v1h-1zM1066 298h1v1h-1zM1066 362h1v1h-1zM1066 420h1v2h-1zM1150 298h1v1h-1zM1067 299h1v1h-1zM1067 361h1v1h-1zM1067 417h1v3h-1zM884 300h1v2h-1zM1068 300h1v1h-1zM1068 360h1v1h-1zM1068 415h1v2h-1zM1147 300h1v1h-1zM1069 301h1v1h-1zM1069 359h1v1h-1zM1069 412h1v3h-1zM1146 301h1v1h-1zM885 302h1v1h-1zM886 303h1v2h-1zM978 303h1v1h-1zM978 396h1v1h-1zM978 494h1v4h-1zM1072 303h1v1h-1zM1072 405h1v2h-1zM1384 303h1v1h-1zM979 304h1v1h-1zM979 490h1v4h-1zM1073 304h1v1h-1zM1073 356h1v1h-1zM1073 402h1v3h-1zM1383 304h1v2h-1zM887 305h1v1h-1zM980 305h1v1h-1zM980 486h1v4h-1zM1074 305h1v1h-1zM1074 355h1v1h-1zM1074 400h1v2h-1zM888 306h1v2h-1zM981 306h1v1h-1zM981 394h1v1h-1zM981 482h1v4h-1zM1075 306h1v1h-1zM1075 354h1v1h-1zM1075 397h1v3h-1zM982 307h1v2h-1zM982 393h1v1h-1zM982 479h1v3h-1zM1076 307h1v2h-1zM1076 353h1v1h-1zM1076 394h1v3h-1zM1090 307h1v1h-1zM889 308h1v1h-1zM1002 308h1v1h-1zM1089 308h1v1h-1zM1380 308h1v1h-1zM890 309h1v2h-1zM951 309h1v1h-1zM951 423h1v1h-1zM983 309h1v1h-1zM983 392h1v1h-1zM983 475h1v4h-1zM1077 309h1v2h-1zM1077 352h1v1h-1zM1077 392h1v2h-1zM1379 309h1v1h-1zM950 310h1v2h-1zM950 424h1v1h-1zM984 310h1v1h-1zM984 472h1v3h-1zM999 310h1v1h-1zM1086 310h1v1h-1zM891 311h1v1h-1zM985 311h1v1h-1zM985 470h1v2h-1zM1078 311h1v2h-1zM1078 351h1v1h-1zM1078 389h1v3h-1zM1085 311h1v1h-1zM1085 346h1v1h-1zM892 312h1v2h-1zM949 312h1v1h-1zM949 425h1v2h-1zM949 535h1v1h-1zM996 312h1v1h-1zM1084 312h1v1h-1zM1084 347h1v1h-1zM948 313h1v1h-1zM948 427h1v1h-1zM948 536h1v1h-1zM1079 313h1v2h-1zM1079 386h1v3h-1zM893 314h1v1h-1zM893 439h1v1h-1zM947 314h1v1h-1zM947 428h1v1h-1zM947 537h1v1h-1zM1081 314h1v1h-1zM1081 349h1v1h-1zM1081 381h1v3h-1zM894 315h1v2h-1zM946 315h1v2h-1zM946 429h1v1h-1zM946 538h1v1h-1zM1080 315h1v1h-1zM1080 384h1v2h-1zM895 317h1v1h-1zM945 317h1v1h-1zM945 430h1v1h-1zM945 539h1v2h-1zM896 318h1v2h-1zM896 441h1v1h-1zM944 318h1v1h-1zM944 431h1v1h-1zM944 541h1v1h-1zM943 319h1v1h-1zM943 432h1v2h-1zM943 542h1v2h-1zM1371 319h1v1h-1zM897 320h1v1h-1zM942 320h1v2h-1zM942 434h1v1h-1zM942 544h1v1h-1zM1370 320h1v1h-1zM898 321h1v2h-1zM941 322h1v1h-1zM941 435h1v1h-1zM941 545h1v2h-1zM899 323h1v2h-1zM899 443h1v1h-1zM940 323h1v1h-1zM940 436h1v1h-1zM940 547h1v1h-1zM939 324h1v1h-1zM939 437h1v1h-1zM939 548h1v2h-1zM900 325h1v1h-1zM938 325h1v1h-1zM901 326h1v2h-1zM937 326h1v1h-1zM936 327h1v1h-1zM936 439h1v1h-1zM902 328h1v1h-1zM935 328h1v1h-1zM935 440h1v1h-1zM903 329h1v2h-1zM934 329h1v1h-1zM933 330h1v1h-1zM904 331h1v2h-1zM932 331h1v1h-1zM932 442h1v1h-1zM931 332h1v1h-1zM905 333h1v1h-1zM930 333h1v1h-1zM906 334h1v1h-1zM929 334h1v1h-1zM907 335h1v1h-1zM928 335h1v1h-1zM908 336h1v1h-1zM927 336h1v1h-1zM911 338h1v1h-1zM924 338h1v1h-1zM912 339h1v1h-1zM923 339h1v1h-1zM922 340h1v1h-1zM1263 357h1v1h-1zM1070 358h1v1h-1zM1070 410h1v2h-1zM1207 364h1v1h-1zM1059 366h1v1h-1zM1059 435h1v1h-1zM1204 366h1v1h-1zM1199 369h1v1h-1zM1196 371h1v1h-1zM1082 380h1v1h-1zM986 390h1v1h-1zM986 468h1v2h-1zM977 397h1v1h-1zM977 498h1v2h-1zM976 398h1v1h-1zM976 500h1v2h-1zM975 399h1v1h-1zM975 502h1v2h-1zM974 400h1v1h-1zM974 504h1v2h-1zM973 401h1v1h-1zM973 506h1v2h-1zM972 402h1v1h-1zM972 508h1v2h-1zM971 403h1v2h-1zM971 510h1v1h-1zM970 405h1v1h-1zM970 511h1v1h-1zM969 406h1v1h-1zM969 512h1v2h-1zM968 407h1v1h-1zM968 514h1v1h-1zM1071 407h1v3h-1zM967 408h1v1h-1zM967 515h1v1h-1zM966 409h1v1h-1zM966 516h1v1h-1zM965 410h1v1h-1zM965 517h1v2h-1zM964 411h1v1h-1zM964 519h1v1h-1zM963 412h1v1h-1zM963 520h1v1h-1zM962 413h1v1h-1zM962 521h1v1h-1zM961 414h1v1h-1zM961 522h1v2h-1zM960 415h1v1h-1zM960 524h1v1h-1zM957 417h1v1h-1zM957 527h1v2h-1zM956 418h1v1h-1zM956 529h1v1h-1zM955 419h1v1h-1zM955 530h1v1h-1zM954 420h1v1h-1zM954 531h1v1h-1zM953 421h1v1h-1zM953 532h1v1h-1zM952 422h1v1h-1zM952 533h1v1h-1zM1065 422h1v3h-1zM1064 425h1v2h-1zM1063 427h1v2h-1zM1062 429h1v2h-1zM1061 431h1v2h-1zM1060 433h1v2h-1zM1058 436h1v2h-1zM1057 438h1v2h-1zM1056 440h1v1h-1zM1055 441h1v2h-1zM1054 443h1v1h-1zM1053 444h1v2h-1zM1052 446h1v1h-1zM1051 447h1v2h-1zM993 456h1v2h-1zM992 458h1v2h-1zM991 460h1v1h-1zM990 461h1v2h-1zM989 463h1v2h-1zM988 465h1v1h-1zM987 466h1v2h-1zM959 525h1v1h-1zM958 526h1v1h-1zM921 553h1v1h-1zM920 554h1v1h-1zM919 555h1v1h-1zM916 557h1v1h-1zM915 558h1v1h-1z" fill="#3cb371"/>
<rect x="0" y="143" width="1632" height="1" fill="#ff0000"/>
<rect x="0" y="168" width="1632" height="1" fill="#ff0000"/>
<rect x="0" y="189" width="1632" height="1" fill="#32cd32"/>
<rect x="0" y="208" width="1632" height="1" fill="#c0c0c0"/>
<rect x="0" y="237" width="1632" height="1" fill="#0000ff"/>
<rect x="0" y="262" width="1632" height="1" fill="#0000ff"/>
<rect x="1627.5" y="141.5" width="4" height="4" fill="#fff" stroke="#ff0000" stroke-width="1"/>
<rect x="1627.5" y="166.5" width="4" height="4" fill="#fff" stroke="#ff0000" stroke-width="1"/>
<rect x="1627.5" y="187.5" width="4" height="4" fill="#fff" stroke="#32cd32" stroke-width="1"/>
<rect x="1627.5" y="235.5" width="4" height="4" fill="#fff" stroke="#0000ff" stroke-width="1"/>
<rect x="1627.5" y="260.5" width="4" height="4" fill="#fff" stroke="#0000ff" stroke-width="1"/>
<g clip-path="url(#cm)"><rect x="2" y="114" width="1" height="9" fill="#000"/><rect x="0.5" y="114.5" width="4" height="8" fill="#fff" stroke="#000" stroke-width="1"/><rect x="66" y="100" width="1" height="21" fill="#000"/><rect x="64" y="100" width="5" height="12" fill="#000"/><rect x="74" y="100" width="1" height="31" fill="#000"/><rect x="72" y="100" width="5" height="16" fill="#000"/><rect x="82" y="100" width="1" height="27" fill="#000"/><rect x="80" y="100" width="5" height="15" fill="#000"/><rect x="218" y="75" width="1" height="3" fill="#000"/><rect x="216" y="75" width="5" height="3" fill="#000"/><rect x="226" y="77" width="1" height="6" fill="#000"/><rect x="224" y="77" width="5" height="4" fill="#000"/><rect x="234" y="66" width="1" height="15" fill="#000"/><rect x="232.5" y="67.5" width="4" height="12" fill="#fff" stroke="#000" stroke-width="1"/><rect x="242" y="66" width="1" height="12" fill="#000"/><rect x="240" y="67" width="5" height="10" fill="#000"/><rect x="250" y="75" width="1" height="4" fill="#000"/><rect x="248" y="75" width="5" height="3" fill="#000"/><rect x="258" y="77" width="1" height="24" fill="#000"/><rect x="256" y="77" width="5" height="22" fill="#000"/><rect x="266" y="96" width="1" height="11" fill="#000"/><rect x="264" y="97" width="5" height="2" fill="#000"/><rect x="274" y="91" width="1" height="4" fill="#000"/><rect x="272" y="92" width="5" height="1" fill="#000"/><rect x="282" y="76" width="1" height="19" fill="#000"/><rect x="280.5" y="81.5" width="4" height="10" fill="#fff" stroke="#000" stroke-width="1"/><rect x="290" y="81" width="1" height="35" fill="#000"/><rect x="288" y="81" width="5" height="23" fill="#000"/><rect x="298" y="108" width="1" height="9" fill="#000"/><rect x="296.5" y="109.5" width="4" height="5" fill="#fff" stroke="#000" stroke-width="1"/><rect x="306" y="104" width="1" height="19" fill="#000"/><rect x="304.5" y="106.5" width="4" height="2" fill="#fff" stroke="#000" stroke-width="1"/><rect x="314" y="90" width="1" height="35" fill="#000"/><rect x="312" y="107" width="5" height="9" fill="#000"/><rect x="322" y="88" width="1" height="42" fill="#000"/><rect x="320.5" y="91.5" width="4" height="24" fill="#fff" stroke="#000" stroke-width="1"/><rect x="330" y="75" width="1" height="18" fill="#000"/><rect x="328.5" y="78.5" width="4" height="13" fill="#fff" stroke="#000" stroke-width="1"/><rect x="338" y="69" width="1" height="14" fill="#000"/><rect x="336" y="77" width="5" height="5" fill="#000"/><rect x="346" y="77" width="1" height="4" fill="#000"/><rect x="344" y="78" width="5" height="2" fill="#000"/><rect x="354" y="64" width="1" height="18" fill="#000"/><rect x="352.5" y="64.5" width="4" height="16" fill="#fff" stroke="#000" stroke-width="1"/><rect x="362" y="60" width="1" height="13" fill="#000"/><rect x="360" y="65" width="5" height="4" fill="#000"/><rect x="370" y="64" width="1" height="8" fill="#000"/><rect x="368.5" y="65.5" width="4" height="3" fill="#fff" stroke="#000" stroke-width="1"/><rect x="378" y="55" width="1" height="15" fill="#000"/><rect x="376.5" y="57.5" width="4" height="9" fill="#fff" stroke="#000" stroke-width="1"/><rect x="386" y="56" width="1" height="8" fill="#000"/><rect x="384" y="56" width="5" height="6" fill="#000"/><rect x="394" y="59" width="1" height="2" fill="#000"/><rect x="392" y="59" width="5" height="1" fill="#000"/><rect x="402" y="57" width="1" height="5" fill="#000"/><rect x="400" y="59" width="5" height="1" fill="#000"/><rect x="410" y="59" width="1" height="19" fill="#000"/><rect x="408" y="59" width="5" height="16" fill="#000"/><rect x="418" y="60" width="1" height="18" fill="#000"/><rect x="416" y="74" width="5" height="1" fill="#000"/><rect x="426" y="69" width="1" height="18" fill="#000"/><rect x="424.5" y="72.5" width="4" height="2" fill="#fff" stroke="#000" stroke-width="1"/><rect x="434" y="68" width="1" height="23" fill="#000"/><rect x="432" y="72" width="5" height="14" fill="#000"/><rect x="442" y="104" width="1" height="7" fill="#000"/><rect x="440.5" y="104.5" width="4" height="3" fill="#fff" stroke="#000" stroke-width="1"/><rect x="450" y="97" width="1" height="24" fill="#000"/><rect x="448" y="105" width="5" height="13" fill="#000"/><rect x="458" y="102" width="1" height="23" fill="#000"/><rect x="456.5" y="107.5" width="4" height="10" fill="#fff" stroke="#000" stroke-width="1"/><rect x="466" y="100" width="1" height="13" fill="#000"/><rect x="464" y="107" width="5" height="3" fill="#000"/><rect x="474" y="106" width="1" height="30" fill="#000"/><rect x="472" y="108" width="5" height="9" fill="#000"/><rect x="482" y="99" width="1" height="47" fill="#000"/><rect x="480" y="116" width="5" height="30" fill="#000"/><rect x="490" y="137" width="1" height="5" fill="#000"/><rect x="488" y="139" width="5" height="1" fill="#000"/><rect x="498" y="123" width="1" height="19" fill="#000"/><rect x="496.5" y="133.5" width="4" height="7" fill="#fff" stroke="#000" stroke-width="1"/><rect x="506" y="99" width="1" height="37" fill="#000"/><rect x="504.5" y="105.5" width="4" height="29" fill="#fff" stroke="#000" stroke-width="1"/><rect x="514" y="81" width="1" height="31" fill="#000"/><rect x="512.5" y="84.5" width="4" height="20" fill="#fff" stroke="#000" stroke-width="1"/><rect x="522" y="63" width="1" height="23" fill="#000"/><rect x="520.5" y="65.5" width="4" height="18" fill="#fff" stroke="#000" stroke-width="1"/><rect x="530" y="65" width="1" height="19" fill="#000"/><rect x="528" y="66" width="5" height="16" fill="#000"/><rect x="538" y="84" width="1" height="8" fill="#000"/><rect x="536" y="84" width="5" height="4" fill="#000"/><rect x="546" y="74" width="1" height="17" fill="#000"/><rect x="544.5" y="80.5" width="4" height="6" fill="#fff" stroke="#000" stroke-width="1"/><rect x="554" y="61" width="1" height="22" fill="#000"/><rect x="552.5" y="72.5" width="4" height="7" fill="#fff" stroke="#000" stroke-width="1"/><rect x="562" y="64" width="1" height="17" fill="#000"/><rect x="560" y="72" width="5" height="1" fill="#000"/><rect x="570" y="69" width="1" height="21" fill="#000"/><rect x="568" y="72" width="5" height="13" fill="#000"/><rect x="578" y="77" width="1" height="19" fill="#000"/><rect x="576" y="84" width="5" height="11" fill="#000"/><rect x="586" y="87" width="1" height="8" fill="#000"/><rect x="584" y="88" width="5" height="6" fill="#000"/><rect x="594" y="89" width="1" height="16" fill="#000"/><rect x="592" y="95" width="5" height="6" fill="#000"/><rect x="602" y="100" width="1" height="20" fill="#000"/><rect x="600" y="100" width="5" height="6" fill="#000"/><rect x="610" y="82" width="1" height="29" fill="#000"/><rect x="608.5" y="83.5" width="4" height="21" fill="#fff" stroke="#000" stroke-width="1"/><rect x="618" y="75" width="1" height="30" fill="#000"/><rect x="616" y="83" width="5" height="18" fill="#000"/><rect x="626" y="88" width="1" height="31" fill="#000"/><rect x="624" y="99" width="5" height="17" fill="#000"/><rect x="634" y="130" width="1" height="9" fill="#000"/><rect x="632" y="136" width="5" height="1" fill="#000"/><rect x="642" y="133" width="1" height="50" fill="#000"/><rect x="640" y="136" width="5" height="29" fill="#000"/><rect x="650" y="141" width="1" height="53" fill="#000"/><rect x="648" y="165" width="5" height="3" fill="#000"/><rect x="658" y="155" width="1" height="33" fill="#000"/><rect x="656" y="164" width="5" height="7" fill="#000"/><rect x="666" y="168" width="1" height="66" fill="#000"/><rect x="664" y="170" width="5" height="55" fill="#000"/><rect x="674" y="220" width="1" height="63" fill="#000"/><rect x="672" y="224" width="5" height="51" fill="#000"/><rect x="682" y="257" width="1" height="13" fill="#000"/><rect x="680.5" y="258.5" width="4" height="8" fill="#fff" stroke="#000" stroke-width="1"/><rect x="690" y="206" width="1" height="63" fill="#000"/><rect x="688.5" y="206.5" width="4" height="50" fill="#fff" stroke="#000" stroke-width="1"/><rect x="698" y="203" width="1" height="66" fill="#000"/><rect x="696" y="207" width="5" height="48" fill="#000"/><rect x="706" y="219" width="1" height="38" fill="#000"/><rect x="704.5" y="222.5" width="4" height="33" fill="#fff" stroke="#000" stroke-width="1"/><rect x="714" y="223" width="1" height="42" fill="#000"/><rect x="712" y="223" width="5" height="28" fill="#000"/><rect x="722" y="244" width="1" height="54" fill="#000"/><rect x="720" y="249" width="5" height="47" fill="#000"/><rect x="730" y="314" width="1" height="21" fill="#000"/><rect x="728.5" y="320.5" width="4" height="7" fill="#fff" stroke="#000" stroke-width="1"/><rect x="738" y="313" width="1" height="91" fill="#000"/><rect x="736" y="320" width="5" height="35" fill="#000"/><rect x="746" y="311" width="1" height="74" fill="#000"/><rect x="744.5" y="342.5" width="4" height="9" fill="#fff" stroke="#000" stroke-width="1"/><rect x="754" y="324" width="1" height="68" fill="#000"/><rect x="752" y="343" width="5" height="45" fill="#000"/><rect x="762" y="376" width="1" height="146" fill="#000"/><rect x="760" y="384" width="5" height="131" fill="#000"/><rect x="770" y="420" width="1" height="110" fill="#000"/><rect x="768.5" y="439.5" width="4" height="73" fill="#fff" stroke="#000" stroke-width="1"/><rect x="778" y="473" width="1" height="29" fill="#000"/><rect x="776.5" y="474.5" width="4" height="27" fill="#fff" stroke="#000" stroke-width="1"/><rect x="786" y="461" width="1" height="108" fill="#000"/><rect x="784" y="473" width="5" height="61" fill="#000"/><rect x="794" y="475" width="1" height="75" fill="#000"/><rect x="792.5" y="503.5" width="4" height="30" fill="#fff" stroke="#000" stroke-width="1"/><rect x="802" y="477" width="1" height="83" fill="#000"/><rect x="800" y="503" width="5" height="1" fill="#000"/><rect x="810" y="476" width="1" height="80" fill="#000"/><rect x="808.5" y="489.5" width="4" height="13" fill="#fff" stroke="#000" stroke-width="1"/><rect x="818" y="445" width="1" height="61" fill="#000"/><rect x="816" y="489" width="5" height="8" fill="#000"/><rect x="826" y="528" width="1" height="40" fill="#000"/><rect x="824.5" y="539.5" width="4" height="27" fill="#fff" stroke="#000" stroke-width="1"/><rect x="834" y="455" width="1" height="89" fill="#000"/><rect x="832.5" y="469.5" width="4" height="69" fill="#fff" stroke="#000" stroke-width="1"/><rect x="842" y="369" width="1" height="108" fill="#000"/><rect x="840.5" y="389.5" width="4" height="78" fill="#fff" stroke="#000" stroke-width="1"/><rect x="850" y="344" width="1" height="69" fill="#000"/><rect x="848.5" y="384.5" width="4" height="5" fill="#fff" stroke="#000" stroke-width="1"/><rect x="858" y="362" width="1" height="60" fill="#000"/><rect x="856.5" y="365.5" width="4" height="19" fill="#fff" stroke="#000" stroke-width="1"/><rect x="866" y="360" width="1" height="43" fill="#000"/><rect x="864" y="364" width="5" height="37" fill="#000"/><rect x="874" y="387" width="1" height="20" fill="#000"/><rect x="872.5" y="400.5" width="4" height="5" fill="#fff" stroke="#000" stroke-width="1"/><rect x="882" y="361" width="1" height="47" fill="#000"/><rect x="880.5" y="365.5" width="4" height="35" fill="#fff" stroke="#000" stroke-width="1"/><rect x="890" y="353" width="1" height="52" fill="#000"/><rect x="888" y="364" width="5" height="37" fill="#000"/><rect x="898" y="388" width="1" height="75" fill="#000"/><rect x="896" y="399" width="5" height="45" fill="#000"/><rect x="906" y="427" width="1" height="38" fill="#000"/><rect x="904.5" y="439.5" width="4" height="3" fill="#fff" stroke="#000" stroke-width="1"/><rect x="914" y="432" width="1" height="31" fill="#000"/><rect x="912" y="441" width="5" height="15" fill="#000"/><rect x="922" y="440" width="1" height="17" fill="#000"/><rect x="920" y="440" width="5" height="8" fill="#000"/><rect x="930" y="372" width="1" height="78" fill="#000"/><rect x="928.5" y="372.5" width="4" height="74" fill="#fff" stroke="#000" stroke-width="1"/><rect x="938" y="319" width="1" height="84" fill="#000"/><rect x="936" y="372" width="5" height="1" fill="#000"/><rect x="946" y="345" width="1" height="47" fill="#000"/><rect x="944.5" y="352.5" width="4" height="21" fill="#fff" stroke="#000" stroke-width="1"/><rect x="954" y="334" width="1" height="31" fill="#000"/><rect x="952.5" y="341.5" width="4" height="11" fill="#fff" stroke="#000" stroke-width="1"/><rect x="962" y="343" width="1" height="17" fill="#000"/><rect x="960" y="343" width="5" height="10" fill="#000"/><rect x="970" y="357" width="1" height="7" fill="#000"/><rect x="968" y="357" width="5" height="3" fill="#000"/><rect x="978" y="351" width="1" height="26" fill="#000"/><rect x="976" y="359" width="5" height="7" fill="#000"/><rect x="986" y="329" width="1" height="40" fill="#000"/><rect x="984.5" y="340.5" width="4" height="26" fill="#fff" stroke="#000" stroke-width="1"/><rect x="994" y="333" width="1" height="30" fill="#000"/><rect x="992" y="340" width="5" height="18" fill="#000"/><rect x="1002" y="328" width="1" height="46" fill="#000"/><rect x="1000.5" y="332.5" width="4" height="25" fill="#fff" stroke="#000" stroke-width="1"/><rect x="1010" y="316" width="1" height="35" fill="#000"/><rect x="1008" y="332" width="5" height="4" fill="#000"/><rect x="1018" y="336" width="1" height="5" fill="#000"/><rect x="1016.5" y="338.5" width="4" height="2" fill="#fff" stroke="#000" stroke-width="1"/><rect x="1026" y="325" width="1" height="30" fill="#000"/><rect x="1024" y="337" width="5" height="10" fill="#000"/><rect x="1034" y="340" width="1" height="35" fill="#000"/><rect x="1032" y="345" width="5" height="24" fill="#000"/><rect x="1042" y="352" width="1" height="32" fill="#000"/><rect x="1040.5" y="356.5" width="4" height="12" fill="#fff" stroke="#000" stroke-width="1"/><rect x="1050" y="332" width="1" height="29" fill="#000"/><rect x="1048.5" y="353.5" width="4" height="3" fill="#fff" stroke="#000" stroke-width="1"/><rect x="1058" y="343" width="1" height="21" fill="#000"/><rect x="1056.5" y="346.5" width="4" height="7" fill="#fff" stroke="#000" stroke-width="1"/><rect x="1066" y="342" width="1" height="6" fill="#000"/><rect x="1064" y="344" width="5" height="2" fill="#000"/><rect x="1074" y="321" width="1" height="26" fill="#000"/><rect x="1072.5" y="325.5" width="4" height="18" fill="#fff" stroke="#000" stroke-width="1"/><rect x="1082" y="302" width="1" height="33" fill="#000"/><rect x="1080.5" y="315.5" width="4" height="10" fill="#fff" stroke="#000" stroke-width="1"/><rect x="1090" y="279" width="1" height="37" fill="#000"/><rect x="1088.5" y="292.5" width="4" height="23" fill="#fff" stroke="#000" stroke-width="1"/><rect x="1098" y="288" width="1" height="35" fill="#000"/><rect x="1096" y="292" width="5" height="24" fill="#000"/><rect x="1106" y="315" width="1" height="31" fill="#000"/><rect x="1104" y="315" width="5" height="27" fill="#000"/><rect x="1114" y="351" width="1" height="11" fill="#000"/><rect x="1112" y="352" width="5" height="6" fill="#000"/><rect x="1122" y="346" width="1" height="24" fill="#000"/><rect x="1120.5" y="347.5" width="4" height="9" fill="#fff" stroke="#000" stroke-width="1"/><rect x="1130" y="326" width="1" height="24" fill="#000"/><rect x="1128.5" y="336.5" width="4" height="11" fill="#fff" stroke="#000" stroke-width="1"/><rect x="1138" y="326" width="1" height="24" fill="#000"/><rect x="1136" y="335" width="5" height="13" fill="#000"/><rect x="1146" y="315" width="1" height="33" fill="#000"/><rect x="1144.5" y="315.5" width="4" height="31" fill="#fff" stroke="#000" stroke-width="1"/><rect x="1154" y="297" width="1" height="21" fill="#000"/><rect x="1152.5" y="297.5" width="4" height="18" fill="#fff" stroke="#000" stroke-width="1"/><rect x="1162" y="289" width="1" height="6" fill="#000"/><rect x="1160.5" y="291.5" width="4" height="3" fill="#fff" stroke="#000" stroke-width="1"/><rect x="1170" y="272" width="1" height="21" fill="#000"/><rect x="1168.5" y="285.5" width="4" height="5" fill="#fff" stroke="#000" stroke-width="1"/><rect x="1178" y="279" width="1" height="28" fill="#000"/><rect x="1176" y="285" width="5" height="22" fill="#000"/><rect x="1186" y="285" width="1" height="24" fill="#000"/><rect x="1184.5" y="303.5" width="4" height="3" fill="#fff" stroke="#000" stroke-width="1"/><rect x="1194" y="300" width="1" height="36" fill="#000"/><rect x="1192.5" y="301.5" width="4" height="3" fill="#fff" stroke="#000" stroke-width="1"/><rect x="1202" y="299" width="1" height="24" fill="#000"/><rect x="1200" y="301" width="5" height="9" fill="#000"/><rect x="1210" y="301" width="1" height="6" fill="#000"/><rect x="1208" y="303" width="5" height="1" fill="#000"/><rect x="1218" y="268" width="1" height="44" fill="#000"/><rect x="1216.5" y="270.5" width="4" height="33" fill="#fff" stroke="#000" stroke-width="1"/><rect x="1226" y="268" width="1" height="21" fill="#000"/><rect x="1224" y="270" width="5" height="14" fill="#000"/><rect x="1234" y="259" width="1" height="25" fill="#000"/><rect x="1232.5" y="266.5" width="4" height="17" fill="#fff" stroke="#000" stroke-width="1"/><rect x="1242" y="265" width="1" height="18" fill="#000"/><rect x="1240" y="267" width="5" height="9" fill="#000"/><rect x="1250" y="273" width="1" height="24" fill="#000"/><rect x="1248" y="274" width="5" height="3" fill="#000"/><rect x="1258" y="267" width="1" height="5" fill="#000"/><rect x="1256.5" y="267.5" width="4" height="3" fill="#fff" stroke="#000" stroke-width="1"/><rect x="1266" y="248" width="1" height="27" fill="#000"/><rect x="1264.5" y="251.5" width="4" height="16" fill="#fff" stroke="#000" stroke-width="1"/><rect x="1274" y="226" width="1" height="28" fill="#000"/><rect x="1272.5" y="233.5" width="4" height="18" fill="#fff" stroke="#000" stroke-width="1"/><rect x="1282" y="203" width="1" height="38" fill="#000"/><rect x="1280.5" y="204.5" width="4" height="29" fill="#fff" stroke="#000" stroke-width="1"/><rect x="1290" y="182" width="1" height="32" fill="#000"/><rect x="1288.5" y="199.5" width="4" height="7" fill="#fff" stroke="#000" stroke-width="1"/><rect x="1298" y="184" width="1" height="24" fill="#000"/><rect x="1296.5" y="188.5" width="4" height="12" fill="#fff" stroke="#000" stroke-width="1"/><rect x="1306" y="185" width="1" height="15" fill="#000"/><rect x="1304.5" y="187.5" width="4" height="9" fill="#fff" stroke="#000" stroke-width="1"/><rect x="1314" y="171" width="1" height="17" fill="#000"/><rect x="1312.5" y="176.5" width="4" height="11" fill="#fff" stroke="#000" stroke-width="1"/><rect x="1322" y="136" width="1" height="44" fill="#000"/><rect x="1320.5" y="138.5" width="4" height="38" fill="#fff" stroke="#000" stroke-width="1"/><rect x="1330" y="125" width="1" height="33" fill="#000"/><rect x="1328.5" y="129.5" width="4" height="10" fill="#fff" stroke="#000" stroke-width="1"/><rect x="1338" y="127" width="1" height="29" fill="#000"/><rect x="1336" y="129" width="5" height="18" fill="#000"/><rect x="1346" y="105" width="1" height="47" fill="#000"/><rect x="1344.5" y="111.5" width="4" height="35" fill="#fff" stroke="#000" stroke-width="1"/><rect x="1354" y="109" width="1" height="5" fill="#000"/><rect x="1352" y="110" width="5" height="4" fill="#000"/><rect x="1362" y="110" width="1" height="17" fill="#000"/><rect x="1360" y="113" width="5" height="4" fill="#000"/><rect x="1370" y="111" width="1" height="23" fill="#000"/><rect x="1368" y="115" width="5" height="19" fill="#000"/><rect x="1378" y="117" width="1" height="29" fill="#000"/><rect x="1376" y="133" width="5" height="10" fill="#000"/><rect x="1386" y="132" width="1" height="83" fill="#000"/><rect x="1384" y="142" width="5" height="67" fill="#000"/></g>
<rect x="1262" y="184" width="150" height="9" fill="#00ff00"/>
<line x1="1123.5" y1="369.5" x2="1355.5" y2="105.6" stroke="#ff0000" stroke-width="3"/>
<polygon points="1357.5,103.3 1352.2,116.0 1345.6,110.2" fill="#ff0000"/>
<line x1="1357.5" y1="104.0" x2="1408.7" y2="242.5" stroke="#ff0000" stroke-width="3"/>
<polygon points="1409.7,245.3 1401.7,237.1 1410.5,233.8" fill="#ff0000"/>
<g clip-path="url(#c2)"><rect x="2" y="635" width="1" height="11" fill="#c0c0c0"/><rect x="10" y="635" width="1" height="11" fill="#c0c0c0"/><rect x="18" y="635" width="1" height="11" fill="#c0c0c0"/><rect x="26" y="635" width="1" height="11" fill="#c0c0c0"/><rect x="34" y="634" width="1" height="12" fill="#c0c0c0"/><rect x="42" y="633" width="1" height="13" fill="#c0c0c0"/><rect x="50" y="635" width="1" height="11" fill="#c0c0c0"/><rect x="58" y="636" width="1" height="10" fill="#c0c0c0"/><rect x="66" y="637" width="1" height="9" fill="#c0c0c0"/><rect x="74" y="638" width="1" height="8" fill="#c0c0c0"/><rect x="82" y="639" width="1" height="7" fill="#c0c0c0"/><rect x="90" y="639" width="1" height="7" fill="#c0c0c0"/><rect x="98" y="638" width="1" height="8" fill="#c0c0c0"/><rect x="106" y="638" width="1" height="8" fill="#c0c0c0"/><rect x="114" y="638" width="1" height="8" fill="#c0c0c0"/><rect x="122" y="638" width="1" height="8" fill="#c0c0c0"/><rect x="130" y="638" width="1" height="8" fill="#c0c0c0"/><rect x="138" y="637" width="1" height="9" fill="#c0c0c0"/><rect x="146" y="635" width="1" height="11" fill="#c0c0c0"/><rect x="154" y="634" width="1" height="12" fill="#c0c0c0"/><rect x="162" y="632" width="1" height="14" fill="#c0c0c0"/><rect x="170" y="632" width="1" height="14" fill="#c0c0c0"/><rect x="178" y="632" width="1" height="14" fill="#c0c0c0"/><rect x="186" y="633" width="1" height="13" fill="#c0c0c0"/><rect x="194" y="633" width="1" height="13" fill="#c0c0c0"/><rect x="202" y="633" width="1" height="13" fill="#c0c0c0"/><rect x="210" y="634" width="1" height="12" fill="#c0c0c0"/><rect x="218" y="635" width="1" height="11" fill="#c0c0c0"/><rect x="226" y="636" width="1" height="10" fill="#c0c0c0"/><rect x="234" y="636" width="1" height="10" fill="#c0c0c0"/><rect x="242" y="637" width="1" height="9" fill="#c0c0c0"/><rect x="250" y="638" width="1" height="8" fill="#c0c0c0"/><rect x="258" y="639" width="1" height="7" fill="#c0c0c0"/><rect x="266" y="641" width="1" height="5" fill="#c0c0c0"/><rect x="274" y="642" width="1" height="4" fill="#c0c0c0"/><rect x="282" y="643" width="1" height="3" fill="#c0c0c0"/><rect x="306" y="645" width="1" height="2" fill="#c0c0c0"/><rect x="314" y="645" width="1" height="4" fill="#c0c0c0"/><rect x="322" y="645" width="1" height="3" fill="#c0c0c0"/><rect x="354" y="643" width="1" height="3" fill="#c0c0c0"/><rect x="362" y="642" width="1" height="4" fill="#c0c0c0"/><rect x="370" y="641" width="1" height="5" fill="#c0c0c0"/><rect x="378" y="640" width="1" height="6" fill="#c0c0c0"/><rect x="386" y="639" width="1" height="7" fill="#c0c0c0"/><rect x="394" y="638" width="1" height="8" fill="#c0c0c0"/><rect x="402" y="638" width="1" height="8" fill="#c0c0c0"/><rect x="410" y="639" width="1" height="7" fill="#c0c0c0"/><rect x="418" y="639" width="1" height="7" fill="#c0c0c0"/><rect x="426" y="640" width="1" height="6" fill="#c0c0c0"/><rect x="434" y="641" width="1" height="5" fill="#c0c0c0"/><rect x="442" y="644" width="1" height="2" fill="#c0c0c0"/><rect x="450" y="645" width="1" height="2" fill="#c0c0c0"/><rect x="458" y="645" width="1" height="4" fill="#c0c0c0"/><rect x="466" y="645" width="1" height="6" fill="#c0c0c0"/><rect x="474" y="645" width="1" height="7" fill="#c0c0c0"/><rect x="482" y="645" width="1" height="11" fill="#c0c0c0"/><rect x="490" y="645" width="1" height="13" fill="#c0c0c0"/><rect x="498" y="645" width="1" height="14" fill="#c0c0c0"/><rect x="506" y="645" width="1" height="12" fill="#c0c0c0"/><rect x="514" y="645" width="1" height="9" fill="#c0c0c0"/><rect x="522" y="645" width="1" height="5" fill="#c0c0c0"/><rect x="530" y="645" width="1" height="3" fill="#c0c0c0"/><rect x="538" y="645" width="1" height="2" fill="#c0c0c0"/><rect x="554" y="644" width="1" height="2" fill="#c0c0c0"/><rect x="562" y="643" width="1" height="3" fill="#c0c0c0"/><rect x="570" y="643" width="1" height="3" fill="#c0c0c0"/><rect x="578" y="644" width="1" height="2" fill="#c0c0c0"/><rect x="586" y="644" width="1" height="2" fill="#c0c0c0"/><rect x="626" y="645" width="1" height="2" fill="#c0c0c0"/><rect x="634" y="645" width="1" height="5" fill="#c0c0c0"/><rect x="642" y="645" width="1" height="11" fill="#c0c0c0"/><rect x="650" y="645" width="1" height="14" fill="#c0c0c0"/><rect x="658" y="645" width="1" height="17" fill="#c0c0c0"/><rect x="666" y="645" width="1" height="24" fill="#c0c0c0"/><rect x="674" y="645" width="1" height="34" fill="#c0c0c0"/><rect x="682" y="645" width="1" height="38" fill="#c0c0c0"/><rect x="690" y="645" width="1" height="38" fill="#c0c0c0"/><rect x="698" y="645" width="1" height="41" fill="#c0c0c0"/><rect x="706" y="645" width="1" height="40" fill="#c0c0c0"/><rect x="714" y="645" width="1" height="42" fill="#c0c0c0"/><rect x="722" y="645" width="1" height="47" fill="#c0c0c0"/><rect x="730" y="645" width="1" height="52" fill="#c0c0c0"/><rect x="738" y="645" width="1" height="57" fill="#c0c0c0"/><rect x="746" y="645" width="1" height="60" fill="#c0c0c0"/><rect x="754" y="645" width="1" height="67" fill="#c0c0c0"/><rect x="762" y="645" width="1" height="80" fill="#c0c0c0"/><rect x="770" y="645" width="1" height="84" fill="#c0c0c0"/><rect x="778" y="645" width="1" height="89" fill="#c0c0c0"/><rect x="786" y="645" width="1" height="97" fill="#c0c0c0"/><rect x="794" y="645" width="1" height="99" fill="#c0c0c0"/><rect x="802" y="645" width="1" height="100" fill="#c0c0c0"/><rect x="810" y="645" width="1" height="98" fill="#c0c0c0"/><rect x="818" y="645" width="1" height="96" fill="#c0c0c0"/><rect x="826" y="645" width="1" height="97" fill="#c0c0c0"/><rect x="834" y="645" width="1" height="92" fill="#c0c0c0"/><rect x="842" y="645" width="1" height="79" fill="#c0c0c0"/><rect x="850" y="645" width="1" height="69" fill="#c0c0c0"/><rect x="858" y="645" width="1" height="57" fill="#c0c0c0"/><rect x="866" y="645" width="1" height="50" fill="#c0c0c0"/><rect x="874" y="645" width="1" height="45" fill="#c0c0c0"/><rect x="882" y="645" width="1" height="37" fill="#c0c0c0"/><rect x="890" y="645" width="1" height="34" fill="#c0c0c0"/><rect x="898" y="645" width="1" height="34" fill="#c0c0c0"/><rect x="906" y="645" width="1" height="34" fill="#c0c0c0"/><rect x="914" y="645" width="1" height="34" fill="#c0c0c0"/><rect x="922" y="645" width="1" height="34" fill="#c0c0c0"/><rect x="930" y="645" width="1" height="27" fill="#c0c0c0"/><rect x="938" y="645" width="1" height="20" fill="#c0c0c0"/><rect x="946" y="645" width="1" height="14" fill="#c0c0c0"/><rect x="954" y="645" width="1" height="8" fill="#c0c0c0"/><rect x="962" y="645" width="1" height="4" fill="#c0c0c0"/><rect x="970" y="645" width="1" height="2" fill="#c0c0c0"/><rect x="986" y="642" width="1" height="4" fill="#c0c0c0"/><rect x="994" y="641" width="1" height="5" fill="#c0c0c0"/><rect x="1002" y="638" width="1" height="8" fill="#c0c0c0"/><rect x="1010" y="636" width="1" height="10" fill="#c0c0c0"/><rect x="1018" y="635" width="1" height="11" fill="#c0c0c0"/><rect x="1026" y="635" width="1" height="11" fill="#c0c0c0"/><rect x="1034" y="637" width="1" height="9" fill="#c0c0c0"/><rect x="1042" y="637" width="1" height="9" fill="#c0c0c0"/><rect x="1050" y="637" width="1" height="9" fill="#c0c0c0"/><rect x="1058" y="636" width="1" height="10" fill="#c0c0c0"/><rect x="1066" y="636" width="1" height="10" fill="#c0c0c0"/><rect x="1074" y="635" width="1" height="11" fill="#c0c0c0"/><rect x="1082" y="633" width="1" height="13" fill="#c0c0c0"/><rect x="1090" y="630" width="1" height="16" fill="#c0c0c0"/><rect x="1098" y="630" width="1" height="16" fill="#c0c0c0"/><rect x="1106" y="631" width="1" height="15" fill="#c0c0c0"/><rect x="1114" y="634" width="1" height="12" fill="#c0c0c0"/><rect x="1122" y="636" width="1" height="10" fill="#c0c0c0"/><rect x="1130" y="636" width="1" height="10" fill="#c0c0c0"/><rect x="1138" y="638" width="1" height="8" fill="#c0c0c0"/><rect x="1146" y="636" width="1" height="10" fill="#c0c0c0"/><rect x="1154" y="633" width="1" height="13" fill="#c0c0c0"/><rect x="1162" y="632" width="1" height="14" fill="#c0c0c0"/><rect x="1170" y="629" width="1" height="17" fill="#c0c0c0"/><rect x="1178" y="630" width="1" height="16" fill="#c0c0c0"/><rect x="1186" y="630" width="1" height="16" fill="#c0c0c0"/><rect x="1194" y="630" width="1" height="16" fill="#c0c0c0"/><rect x="1202" y="631" width="1" height="15" fill="#c0c0c0"/><rect x="1210" y="631" width="1" height="15" fill="#c0c0c0"/><rect x="1218" y="629" width="1" height="17" fill="#c0c0c0"/><rect x="1226" y="628" width="1" height="18" fill="#c0c0c0"/><rect x="1234" y="627" width="1" height="19" fill="#c0c0c0"/><rect x="1242" y="627" width="1" height="19" fill="#c0c0c0"/><rect x="1250" y="627" width="1" height="19" fill="#c0c0c0"/><rect x="1258" y="626" width="1" height="20" fill="#c0c0c0"/><rect x="1266" y="625" width="1" height="21" fill="#c0c0c0"/><rect x="1274" y="622" width="1" height="24" fill="#c0c0c0"/><rect x="1282" y="618" width="1" height="28" fill="#c0c0c0"/><rect x="1290" y="615" width="1" height="31" fill="#c0c0c0"/><rect x="1298" y="612" width="1" height="34" fill="#c0c0c0"/><rect x="1306" y="610" width="1" height="36" fill="#c0c0c0"/><rect x="1314" y="608" width="1" height="38" fill="#c0c0c0"/><rect x="1322" y="603" width="1" height="43" fill="#c0c0c0"/><rect x="1330" y="599" width="1" height="47" fill="#c0c0c0"/><rect x="1338" y="598" width="1" height="48" fill="#c0c0c0"/><rect x="1346" y="596" width="1" height="50" fill="#c0c0c0"/><rect x="1354" y="594" width="1" height="52" fill="#c0c0c0"/><rect x="1362" y="593" width="1" height="53" fill="#c0c0c0"/><rect x="1370" y="595" width="1" height="51" fill="#c0c0c0"/><rect x="1378" y="596" width="1" height="50" fill="#c0c0c0"/><rect x="1386" y="605" width="1" height="41" fill="#c0c0c0"/></g>
<path d="M0 629h2v1h-2zM1219 629h2v1h-2zM1224 629h3v1h-3zM1230 629h3v1h-3zM1236 629h2v1h-2zM1207 630h2v1h-2zM1212 630h3v1h-3zM6 631h3v1h-3zM1194 631h3v1h-3zM1200 631h3v1h-3zM13 632h2v1h-2zM18 632h3v1h-3zM1182 632h3v1h-3zM1188 632h3v1h-3zM24 633h3v1h-3zM30 633h2v1h-2zM198 633h3v1h-3zM204 633h3v1h-3zM210 633h3v1h-3zM216 633h3v1h-3zM222 633h3v1h-3zM228 633h3v1h-3zM234 633h3v1h-3zM1116 633h3v1h-3zM1122 633h3v1h-3zM1128 633h3v1h-3zM1134 633h3v1h-3zM1140 633h3v1h-3zM1146 633h3v1h-3zM1152 633h3v1h-3zM1158 633h3v1h-3zM1164 633h3v1h-3zM1170 633h3v1h-3zM1176 633h3v1h-3zM36 634h3v1h-3zM42 634h2v1h-2zM192 634h3v1h-3zM240 634h3v1h-3zM246 634h3v1h-3zM1087 634h2v1h-2zM1092 634h3v1h-3zM1098 634h3v1h-3zM1104 634h3v1h-3zM1110 634h3v1h-3zM48 635h3v1h-3zM54 635h3v1h-3zM60 635h3v1h-3zM66 635h3v1h-3zM72 635h3v1h-3zM78 635h3v1h-3zM180 635h3v1h-3zM186 635h2v1h-2zM252 635h3v1h-3zM1080 635h3v1h-3zM84 636h3v1h-3zM90 636h3v1h-3zM174 636h3v1h-3zM258 636h3v1h-3zM264 636h2v1h-2zM1056 636h3v1h-3zM1062 636h3v1h-3zM1068 636h3v1h-3zM1074 636h3v1h-3zM96 637h3v1h-3zM102 637h3v1h-3zM156 637h3v1h-3zM162 637h3v1h-3zM168 637h3v1h-3zM270 637h3v1h-3zM276 637h3v1h-3zM1044 637h3v1h-3zM1050 637h2v1h-2zM108 638h3v1h-3zM114 638h3v1h-3zM120 638h3v1h-3zM126 638h3v1h-3zM132 638h3v1h-3zM138 638h3v1h-3zM144 638h3v1h-3zM150 638h3v1h-3zM283 638h2v1h-2zM288 638h3v1h-3zM426 638h3v1h-3zM432 638h3v1h-3zM438 638h3v1h-3zM1038 638h3v1h-3zM294 639h3v1h-3zM414 639h3v1h-3zM420 639h2v1h-2zM444 639h3v1h-3zM1033 639h2v1h-2zM300 641h3v1h-3zM402 641h3v1h-3zM456 641h3v1h-3zM462 641h3v1h-3zM1026 641h2v1h-2zM306 642h3v1h-3zM396 642h3v1h-3zM1020 642h2v1h-2zM312 643h3v1h-3zM384 643h3v1h-3zM390 643h2v1h-2zM469 643h2v1h-2zM1014 643h2v1h-2zM318 644h3v1h-3zM378 644h3v1h-3zM474 644h3v1h-3zM588 644h3v1h-3zM594 644h3v1h-3zM600 644h3v1h-3zM606 644h3v1h-3zM612 644h3v1h-3zM618 644h3v1h-3zM624 644h3v1h-3zM1009 644h2v1h-2zM325 645h2v1h-2zM330 645h3v1h-3zM367 645h2v1h-2zM372 645h3v1h-3zM582 645h3v1h-3zM630 645h3v1h-3zM636 645h2v1h-2zM336 646h3v1h-3zM342 646h3v1h-3zM348 646h3v1h-3zM354 646h3v1h-3zM360 646h3v1h-3zM481 646h2v1h-2zM576 646h3v1h-3zM408 640h3v1h-3zM450 640h3v1h-3zM486 647h3v1h-3zM643 647h2v1h-2zM1002 647h2v1h-2zM492 648h2v1h-2zM570 648h2v1h-2zM648 648h3v1h-3zM564 649h3v1h-3zM654 649h3v1h-3zM498 650h3v1h-3zM558 650h3v1h-3zM552 651h3v1h-3zM661 651h2v1h-2zM505 652h2v1h-2zM546 652h3v1h-3zM510 653h3v1h-3zM516 653h2v1h-2zM534 653h3v1h-3zM540 653h3v1h-3zM991 653h2v1h-2zM522 654h3v1h-3zM528 654h3v1h-3zM667 654h2v1h-2zM985 656h2v1h-2zM673 657h2v1h-2zM979 659h2v1h-2zM679 660h2v1h-2zM973 662h2v1h-2zM685 663h2v1h-2zM967 665h2v1h-2zM691 666h2v1h-2zM960 668h2v1h-2zM697 669h2v1h-2zM702 671h2v1h-2zM954 671h2v1h-2zM708 674h2v1h-2zM714 677h2v1h-2zM937 678h2v1h-2zM720 680h2v1h-2zM931 680h2v1h-2zM726 683h3v1h-3zM924 683h2v1h-2zM919 685h2v1h-2zM733 686h2v1h-2zM913 688h2v1h-2zM739 689h2v1h-2zM744 691h2v1h-2zM751 694h2v1h-2zM756 696h2v1h-2zM762 699h2v1h-2zM768 702h2v1h-2zM781 711h2v1h-2zM798 723h2v1h-2zM865 728h2v1h-2zM811 731h2v1h-2zM859 731h2v1h-2zM817 734h2v1h-2zM853 734h2v1h-2zM822 736h2v1h-2zM846 738h2v1h-2zM829 739h2v1h-2zM834 739h3v1h-3zM840 739h3v1h-3zM942 676h2v1h-2zM949 673h2v1h-2zM1242 628h3v1h-3zM1248 628h3v1h-3zM1254 628h3v1h-3zM1260 627h3v1h-3zM1266 627h3v1h-3zM1272 626h3v1h-3zM1278 625h3v1h-3zM1284 624h3v1h-3zM1291 622h2v1h-2zM1296 621h2v1h-2zM1303 619h2v1h-2zM1308 618h3v1h-3zM1314 617h3v1h-3zM1321 614h2v1h-2zM1326 612h2v1h-2zM1332 610h3v1h-3zM1339 608h2v1h-2zM1344 606h2v1h-2zM1350 605h2v1h-2zM1356 603h2v1h-2zM1362 600h3v1h-3zM1368 599h3v1h-3zM1374 598h2v1h-2zM1380 597h3v1h-3zM2 630h1v1h-1zM1218 630h1v1h-1zM12 631h1v1h-1zM1206 631h1v1h-1zM32 634h1v1h-1zM188 634h1v1h-1zM44 635h1v1h-1zM1086 635h1v1h-1zM1052 636h1v1h-1zM266 637h1v1h-1zM282 637h1v1h-1zM422 638h1v1h-1zM1022 641h1v1h-1zM392 642h1v1h-1zM468 642h1v1h-1zM1016 642h1v1h-1zM324 644h1v1h-1zM480 645h1v1h-1zM1008 645h1v1h-1zM366 646h1v1h-1zM638 646h1v1h-1zM642 646h1v1h-1zM1004 646h1v1h-1zM1028 640h1v1h-1zM1032 640h1v1h-1zM572 647h1v1h-1zM494 649h1v1h-1zM998 649h1v1h-1zM660 650h1v1h-1zM997 650h1v1h-1zM504 651h1v1h-1zM996 651h1v1h-1zM666 653h1v1h-1zM518 654h1v1h-1zM990 654h1v1h-1zM672 656h1v1h-1zM984 657h1v1h-1zM678 659h1v1h-1zM978 660h1v1h-1zM684 662h1v1h-1zM972 663h1v1h-1zM690 665h1v1h-1zM966 666h1v1h-1zM696 668h1v1h-1zM704 672h1v1h-1zM948 674h1v1h-1zM710 675h1v1h-1zM944 675h1v1h-1zM716 678h1v1h-1zM722 681h1v1h-1zM930 681h1v1h-1zM732 685h1v1h-1zM918 686h1v1h-1zM738 688h1v1h-1zM912 689h1v1h-1zM908 691h1v1h-1zM746 692h1v1h-1zM907 692h1v1h-1zM750 693h1v1h-1zM906 693h1v1h-1zM902 696h1v1h-1zM758 697h1v1h-1zM901 697h1v1h-1zM764 700h1v1h-1zM895 702h1v1h-1zM770 703h1v1h-1zM894 703h1v1h-1zM774 705h1v1h-1zM775 706h1v1h-1zM890 706h1v1h-1zM776 707h1v1h-1zM889 707h1v1h-1zM780 710h1v1h-1zM786 714h1v1h-1zM882 714h1v1h-1zM787 715h1v1h-1zM788 716h1v1h-1zM792 718h1v1h-1zM878 718h1v1h-1zM793 719h1v1h-1zM877 719h1v1h-1zM794 720h1v1h-1zM876 720h1v1h-1zM872 723h1v1h-1zM800 724h1v1h-1zM871 724h1v1h-1zM804 726h1v1h-1zM805 727h1v1h-1zM806 728h1v1h-1zM810 730h1v1h-1zM816 733h1v1h-1zM824 737h1v1h-1zM848 737h1v1h-1zM828 738h1v1h-1zM852 735h1v1h-1zM858 732h1v1h-1zM864 729h1v1h-1zM870 725h1v1h-1zM883 713h1v1h-1zM884 712h1v1h-1zM888 708h1v1h-1zM896 701h1v1h-1zM900 698h1v1h-1zM926 682h1v1h-1zM936 679h1v1h-1zM956 670h1v1h-1zM962 667h1v1h-1zM1238 628h1v1h-1zM1290 623h1v1h-1zM1298 620h1v1h-1zM1302 620h1v1h-1zM1320 615h1v1h-1zM1328 611h1v1h-1zM1338 609h1v1h-1zM1346 605h1v1h-1zM1352 604h1v1h-1zM1358 602h1v1h-1zM1376 597h1v1h-1z" fill="#ff0000"/>
<line x1="0" y1="791.5" x2="1631" y2="791.5" stroke="#c0c0c0" stroke-width="1" stroke-dasharray="3 3" stroke-dashoffset="5"/>
<line x1="0" y1="842.5" x2="1631" y2="842.5" stroke="#c0c0c0" stroke-width="1" stroke-dasharray="3 3" stroke-dashoffset="5"/>
<line x1="0" y1="903.5" x2="1631" y2="903.5" stroke="#c0c0c0" stroke-width="1" stroke-dasharray="3 3" stroke-dashoffset="5"/>
<path d="M425 837h2v1h-2zM534 837h3v1h-3zM540 837h3v1h-3zM942 837h2v1h-2zM968 837h4v1h-4zM992 837h2v1h-2zM1055 837h2v1h-2zM82 836h2v1h-2zM118 836h9v1h-9zM532 836h2v1h-2zM543 836h2v1h-2zM944 836h2v1h-2zM964 836h4v1h-4zM990 836h2v1h-2zM1025 836h2v1h-2zM1057 836h10v1h-10zM84 835h3v1h-3zM114 835h4v1h-4zM127 835h4v1h-4zM248 835h3v1h-3zM336 835h7v1h-7zM530 835h2v1h-2zM545 835h3v1h-3zM946 835h2v1h-2zM961 835h3v1h-3zM983 835h2v1h-2zM997 835h2v1h-2zM1022 835h3v1h-3zM3 834h2v1h-2zM87 834h2v1h-2zM225 834h2v1h-2zM244 834h4v1h-4zM332 834h4v1h-4zM343 834h4v1h-4zM548 834h2v1h-2zM948 834h3v1h-3zM958 834h3v1h-3zM987 834h2v1h-2zM1020 834h2v1h-2zM1201 834h4v1h-4zM89 833h2v1h-2zM223 833h2v1h-2zM242 833h2v1h-2zM330 833h2v1h-2zM550 833h2v1h-2zM951 833h2v1h-2zM956 833h2v1h-2zM1008 833h12v1h-12zM1069 833h2v1h-2zM1199 833h2v1h-2zM1205 833h4v1h-4zM50 832h2v1h-2zM221 832h2v1h-2zM552 832h2v1h-2zM953 832h3v1h-3zM1004 832h4v1h-4zM1178 832h5v1h-5zM1197 832h2v1h-2zM1209 832h2v1h-2zM7 831h2v1h-2zM52 831h3v1h-3zM219 831h2v1h-2zM554 831h9v1h-9zM1002 831h2v1h-2zM1183 831h8v1h-8zM1195 831h2v1h-2zM55 830h2v1h-2zM216 830h3v1h-3zM1147 830h2v1h-2zM1191 830h4v1h-4zM57 829h2v1h-2zM212 829h4v1h-4zM1074 829h2v1h-2zM210 828h2v1h-2zM361 828h4v1h-4zM1076 828h3v1h-3zM208 827h2v1h-2zM359 827h2v1h-2zM365 827h4v1h-4zM1079 827h2v1h-2zM1151 827h2v1h-2zM206 826h2v1h-2zM357 826h2v1h-2zM369 826h2v1h-2zM1081 826h2v1h-2zM1227 826h2v1h-2zM1242 826h10v1h-10zM193 825h4v1h-4zM355 825h2v1h-2zM371 825h2v1h-2zM386 825h3v1h-3zM1154 825h5v1h-5zM1240 825h2v1h-2zM1252 825h3v1h-3zM98 824h5v1h-5zM190 824h3v1h-3zM197 824h4v1h-4zM203 824h2v1h-2zM384 824h2v1h-2zM389 824h4v1h-4zM398 824h5v1h-5zM1159 824h6v1h-6zM1222 824h2v1h-2zM1238 824h2v1h-2zM1255 824h2v1h-2zM103 823h4v1h-4zM188 823h2v1h-2zM201 823h2v1h-2zM382 823h2v1h-2zM393 823h5v1h-5zM1085 823h2v1h-2zM1165 823h4v1h-4zM1231 823h2v1h-2zM1257 823h2v1h-2zM22 822h9v1h-9zM178 822h10v1h-10zM375 822h2v1h-2zM1169 822h2v1h-2zM1235 822h2v1h-2zM1259 822h2v1h-2zM18 821h4v1h-4zM31 821h12v1h-12zM379 821h2v1h-2zM281 838h2v1h-2zM421 838h4v1h-4zM537 838h3v1h-3zM940 838h2v1h-2zM972 838h4v1h-4zM979 838h2v1h-2zM1052 838h3v1h-3zM1129 838h2v1h-2zM410 839h11v1h-11zM930 839h10v1h-10zM976 839h3v1h-3zM1047 839h5v1h-5zM1127 839h2v1h-2zM1131 839h2v1h-2zM1030 840h2v1h-2zM1041 840h6v1h-6zM1124 840h3v1h-3zM1133 840h2v1h-2zM572 841h2v1h-2zM1039 841h2v1h-2zM1122 841h2v1h-2zM1135 841h2v1h-2zM67 842h2v1h-2zM1036 842h3v1h-3zM1108 842h2v1h-2zM1120 842h2v1h-2zM1137 842h2v1h-2zM69 843h2v1h-2zM856 843h2v1h-2zM1034 843h2v1h-2zM71 844h2v1h-2zM576 844h2v1h-2zM854 844h2v1h-2zM860 844h2v1h-2zM1117 844h2v1h-2zM73 845h2v1h-2zM578 845h9v1h-9zM852 845h2v1h-2zM877 845h2v1h-2zM886 845h2v1h-2zM1112 845h2v1h-2zM1115 845h2v1h-2zM1263 819h2v1h-2zM1267 816h2v1h-2zM1269 815h2v1h-2zM142 813h9v1h-9zM1272 813h2v1h-2zM138 812h4v1h-4zM151 812h4v1h-4zM1376 812h2v1h-2zM155 811h2v1h-2zM168 811h2v1h-2zM157 810h2v1h-2zM166 810h2v1h-2zM1372 809h2v1h-2zM160 808h2v1h-2zM163 808h2v1h-2zM587 846h2v1h-2zM842 846h10v1h-10zM589 847h2v1h-2zM864 847h2v1h-2zM591 848h2v1h-2zM866 848h9v1h-9zM593 849h3v1h-3zM596 850h2v1h-2zM272 851h2v1h-2zM598 851h3v1h-3zM270 852h2v1h-2zM601 852h2v1h-2zM894 852h2v1h-2zM268 853h2v1h-2zM263 854h5v1h-5zM258 855h5v1h-5zM898 855h10v1h-10zM921 855h2v1h-2zM908 856h4v1h-4zM917 856h4v1h-4zM291 857h2v1h-2zM912 857h5v1h-5zM293 858h2v1h-2zM305 858h2v1h-2zM295 859h2v1h-2zM301 859h4v1h-4zM297 860h4v1h-4zM308 860h2v1h-2zM458 861h4v1h-4zM462 862h5v1h-5zM312 863h3v1h-3zM467 863h2v1h-2zM707 863h2v1h-2zM709 864h2v1h-2zM470 865h2v1h-2zM690 865h2v1h-2zM711 865h2v1h-2zM472 866h2v1h-2zM713 866h2v1h-2zM446 868h2v1h-2zM495 871h2v1h-2zM491 874h2v1h-2zM810 874h4v1h-4zM642 875h4v1h-4zM808 875h2v1h-2zM814 875h5v1h-5zM488 876h2v1h-2zM646 876h8v1h-8zM723 876h2v1h-2zM806 876h2v1h-2zM819 876h2v1h-2zM654 877h5v1h-5zM770 877h2v1h-2zM804 877h2v1h-2zM485 878h2v1h-2zM726 878h2v1h-2zM772 878h2v1h-2zM794 878h10v1h-10zM822 878h2v1h-2zM483 879h2v1h-2zM728 879h2v1h-2zM774 879h3v1h-3zM824 879h3v1h-3zM777 880h2v1h-2zM731 881h2v1h-2zM744 881h2v1h-2zM747 881h2v1h-2zM780 882h2v1h-2zM734 883h2v1h-2zM741 883h2v1h-2zM750 883h2v1h-2zM736 884h2v1h-2zM739 884h2v1h-2zM752 884h2v1h-2zM784 885h2v1h-2zM761 897h2v1h-2zM1282 804h5v1h-5zM1287 803h5v1h-5zM1292 802h3v1h-3zM1295 801h2v1h-2zM1302 801h6v1h-6zM1297 800h5v1h-5zM1308 800h2v1h-2zM1310 799h2v1h-2zM1312 798h2v1h-2zM1341 798h2v1h-2zM1360 796h3v1h-3zM1356 795h4v1h-4zM1317 794h2v1h-2zM1346 794h10v1h-10zM1322 790h3v1h-3zM1325 789h4v1h-4zM1329 788h2v1h-2zM0 837h1v1h-1zM63 836h1v2h-1zM81 837h1v1h-1zM251 837h1v2h-1zM282 837h1v1h-1zM326 837h1v2h-1zM409 837h1v2h-1zM512 837h1v1h-1zM568 837h1v1h-1zM610 837h1v1h-1zM981 837h1v1h-1zM995 837h1v1h-1zM1027 837h1v1h-1zM1104 837h1v2h-1zM1142 836h1v2h-1zM1384 834h1v4h-1zM1 836h1v1h-1zM250 836h1v1h-1zM327 836h1v1h-1zM408 835h1v2h-1zM513 835h1v2h-1zM567 836h1v1h-1zM982 836h1v1h-1zM996 836h1v1h-1zM1103 836h1v1h-1zM2 835h1v1h-1zM62 835h1v1h-1zM328 835h1v1h-1zM566 835h1v1h-1zM989 835h1v1h-1zM1067 835h1v1h-1zM1102 835h1v1h-1zM1143 835h1v1h-1zM61 833h1v2h-1zM113 833h1v2h-1zM130 834h1v1h-1zM329 834h1v1h-1zM407 833h1v2h-1zM514 834h1v1h-1zM529 834h1v1h-1zM565 834h1v1h-1zM985 834h1v1h-1zM999 834h1v1h-1zM1068 834h1v1h-1zM1101 834h1v1h-1zM1144 834h1v1h-1zM5 833h1v1h-1zM131 831h1v3h-1zM227 832h1v2h-1zM347 833h1v1h-1zM515 833h1v1h-1zM528 832h1v2h-1zM564 833h1v1h-1zM986 833h1v1h-1zM1000 833h1v1h-1zM1100 832h1v2h-1zM1145 832h1v2h-1zM1383 830h1v4h-1zM6 832h1v1h-1zM60 832h1v1h-1zM91 832h1v1h-1zM112 832h1v1h-1zM241 831h1v2h-1zM348 831h1v2h-1zM406 831h1v2h-1zM516 832h1v1h-1zM563 832h1v1h-1zM1001 832h1v1h-1zM1071 832h1v1h-1zM49 830h1v2h-1zM59 830h1v2h-1zM92 831h1v1h-1zM111 830h1v2h-1zM228 831h1v1h-1zM517 831h1v1h-1zM527 831h1v1h-1zM1072 831h1v1h-1zM1099 831h1v1h-1zM1146 831h1v1h-1zM1177 831h1v1h-1zM1211 830h1v2h-1zM9 830h1v1h-1zM93 830h1v1h-1zM132 828h1v3h-1zM229 829h1v2h-1zM240 830h1v1h-1zM349 830h1v1h-1zM405 829h1v2h-1zM518 829h1v2h-1zM526 830h1v1h-1zM1073 830h1v1h-1zM1098 830h1v1h-1zM1176 829h1v2h-1zM10 829h1v1h-1zM48 829h1v1h-1zM94 828h1v2h-1zM110 829h1v1h-1zM239 829h1v1h-1zM350 829h1v1h-1zM525 829h1v1h-1zM1097 828h1v2h-1zM1149 829h1v1h-1zM1212 829h1v1h-1zM1382 827h1v3h-1zM11 828h1v1h-1zM47 828h1v1h-1zM109 827h1v2h-1zM230 828h1v1h-1zM238 827h1v2h-1zM351 828h1v1h-1zM404 827h1v2h-1zM519 828h1v1h-1zM524 827h1v2h-1zM1150 828h1v1h-1zM1175 828h1v1h-1zM1213 827h1v2h-1zM12 827h1v1h-1zM46 826h1v2h-1zM95 827h1v1h-1zM133 825h1v3h-1zM231 826h1v2h-1zM352 826h1v2h-1zM520 827h1v1h-1zM1096 827h1v1h-1zM1174 827h1v1h-1zM1226 827h1v1h-1zM13 826h1v1h-1zM96 826h1v1h-1zM108 826h1v1h-1zM237 826h1v1h-1zM403 825h1v2h-1zM521 826h1v1h-1zM523 826h1v1h-1zM1095 826h1v1h-1zM1153 826h1v1h-1zM1173 826h1v1h-1zM1214 826h1v1h-1zM1225 826h1v1h-1zM1381 823h1v4h-1zM14 825h1v1h-1zM45 825h1v1h-1zM97 825h1v1h-1zM107 824h1v2h-1zM205 825h1v1h-1zM232 825h1v1h-1zM236 825h1v1h-1zM353 825h1v1h-1zM522 825h1v1h-1zM1083 825h1v1h-1zM1094 824h1v2h-1zM1172 824h1v2h-1zM1215 824h1v2h-1zM1224 825h1v1h-1zM1229 825h1v1h-1zM15 824h1v1h-1zM44 824h1v1h-1zM134 823h1v2h-1zM233 823h1v2h-1zM235 823h1v2h-1zM354 824h1v1h-1zM373 824h1v1h-1zM1084 824h1v1h-1zM1230 824h1v1h-1zM16 823h1v1h-1zM43 822h1v2h-1zM374 823h1v1h-1zM1093 823h1v1h-1zM1171 823h1v1h-1zM1216 823h1v1h-1zM1221 823h1v1h-1zM1237 823h1v1h-1zM17 822h1v1h-1zM135 820h1v3h-1zM234 822h1v1h-1zM381 822h1v1h-1zM1087 822h1v1h-1zM1092 822h1v1h-1zM1217 821h1v2h-1zM1220 822h1v1h-1zM1233 822h1v1h-1zM1380 819h1v4h-1zM177 821h1v1h-1zM377 821h1v1h-1zM1088 821h1v1h-1zM1091 820h1v2h-1zM1219 821h1v1h-1zM1234 821h1v1h-1zM1261 821h1v1h-1zM64 838h1v1h-1zM80 838h1v1h-1zM427 838h1v2h-1zM511 838h1v2h-1zM569 838h1v1h-1zM609 838h1v2h-1zM611 838h1v1h-1zM994 838h1v1h-1zM1028 838h1v1h-1zM1141 838h1v1h-1zM1385 838h1v4h-1zM65 839h1v2h-1zM79 839h1v1h-1zM252 839h1v3h-1zM281 839h1v1h-1zM283 839h1v2h-1zM325 839h1v1h-1zM570 839h1v1h-1zM612 839h1v2h-1zM1029 839h1v1h-1zM1105 839h1v1h-1zM1140 839h1v1h-1zM78 840h1v2h-1zM280 840h1v2h-1zM324 840h1v1h-1zM428 840h1v2h-1zM510 840h1v1h-1zM571 840h1v1h-1zM608 840h1v2h-1zM930 840h1v1h-1zM1106 840h1v1h-1zM1139 840h1v2h-1zM66 841h1v1h-1zM284 841h1v2h-1zM323 841h1v1h-1zM509 841h1v2h-1zM613 841h1v1h-1zM882 841h1v1h-1zM929 841h1v2h-1zM1032 841h1v1h-1zM1107 841h1v1h-1zM77 842h1v1h-1zM253 842h1v2h-1zM279 842h1v1h-1zM322 842h1v2h-1zM429 842h1v1h-1zM574 842h1v1h-1zM607 842h1v2h-1zM614 842h1v1h-1zM858 842h1v1h-1zM881 842h1v1h-1zM883 842h1v1h-1zM1033 842h1v1h-1zM1386 842h1v2h-1zM76 843h1v1h-1zM278 843h1v2h-1zM285 843h1v3h-1zM430 843h1v2h-1zM508 843h1v1h-1zM575 843h1v1h-1zM615 843h1v1h-1zM859 843h1v1h-1zM880 843h1v1h-1zM884 843h1v1h-1zM928 843h1v2h-1zM1110 843h1v1h-1zM1119 843h1v1h-1zM75 844h1v1h-1zM254 844h1v3h-1zM321 844h1v3h-1zM507 844h1v2h-1zM606 844h1v2h-1zM616 844h1v2h-1zM879 844h1v1h-1zM885 844h1v1h-1zM1111 844h1v1h-1zM277 845h1v1h-1zM431 845h1v1h-1zM862 845h1v1h-1zM927 845h1v2h-1zM176 819h1v2h-1zM378 820h1v1h-1zM1089 820h1v1h-1zM1218 820h1v1h-1zM1262 820h1v1h-1zM136 817h1v3h-1zM1090 819h1v1h-1zM175 818h1v1h-1zM1265 818h1v1h-1zM1379 815h1v4h-1zM174 817h1v1h-1zM1266 817h1v1h-1zM137 814h1v3h-1zM173 816h1v1h-1zM172 814h1v2h-1zM1271 814h1v1h-1zM1378 813h1v2h-1zM138 813h1v1h-1zM171 813h1v1h-1zM170 812h1v1h-1zM1274 812h1v1h-1zM1275 811h1v1h-1zM1375 811h1v1h-1zM1276 810h1v1h-1zM1374 810h1v1h-1zM159 809h1v1h-1zM165 809h1v1h-1zM1277 809h1v1h-1zM1278 808h1v1h-1zM1371 808h1v1h-1zM162 807h1v1h-1zM1279 807h1v1h-1zM1370 807h1v1h-1zM276 846h1v2h-1zM286 846h1v2h-1zM432 846h1v2h-1zM506 846h1v2h-1zM605 846h1v2h-1zM617 846h1v1h-1zM863 846h1v1h-1zM876 846h1v1h-1zM888 846h1v1h-1zM1114 846h1v1h-1zM255 847h1v2h-1zM320 847h1v2h-1zM618 847h1v1h-1zM842 847h1v1h-1zM875 847h1v1h-1zM889 847h1v1h-1zM926 847h1v2h-1zM275 848h1v2h-1zM287 848h1v3h-1zM433 848h1v2h-1zM505 848h1v3h-1zM604 848h1v2h-1zM619 848h1v1h-1zM841 848h1v2h-1zM890 848h1v1h-1zM256 849h1v3h-1zM319 849h1v3h-1zM620 849h1v1h-1zM891 849h1v1h-1zM925 849h1v2h-1zM274 850h1v1h-1zM434 850h1v1h-1zM603 850h1v2h-1zM621 850h1v1h-1zM840 850h1v2h-1zM892 850h1v1h-1zM288 851h1v2h-1zM435 851h1v2h-1zM504 851h1v3h-1zM622 851h1v1h-1zM893 851h1v1h-1zM924 851h1v2h-1zM257 852h1v2h-1zM318 852h1v3h-1zM623 852h1v1h-1zM839 852h1v2h-1zM289 853h1v2h-1zM436 853h1v2h-1zM624 853h1v1h-1zM896 853h1v1h-1zM923 853h1v2h-1zM258 854h1v1h-1zM503 854h1v3h-1zM625 854h1v1h-1zM838 854h1v2h-1zM897 854h1v1h-1zM290 855h1v2h-1zM317 855h1v3h-1zM437 855h1v2h-1zM626 855h1v1h-1zM627 856h1v1h-1zM837 856h1v2h-1zM438 857h1v1h-1zM502 857h1v2h-1zM628 857h1v2h-1zM316 858h1v2h-1zM439 858h1v2h-1zM836 858h1v2h-1zM307 859h1v1h-1zM501 859h1v3h-1zM629 859h1v1h-1zM315 860h1v3h-1zM440 860h1v2h-1zM630 860h1v1h-1zM835 860h1v2h-1zM310 861h1v1h-1zM631 861h1v1h-1zM311 862h1v1h-1zM441 862h1v2h-1zM457 862h1v1h-1zM500 862h1v3h-1zM632 862h1v2h-1zM706 862h1v1h-1zM834 862h1v3h-1zM456 863h1v2h-1zM705 863h1v2h-1zM314 864h1v1h-1zM442 864h1v1h-1zM469 864h1v1h-1zM633 864h1v1h-1zM690 864h1v1h-1zM443 865h1v1h-1zM455 865h1v1h-1zM499 865h1v3h-1zM634 865h1v1h-1zM704 865h1v1h-1zM833 865h1v2h-1zM444 866h1v1h-1zM454 866h1v1h-1zM635 866h1v1h-1zM689 866h1v3h-1zM692 866h1v2h-1zM703 866h1v2h-1zM445 867h1v1h-1zM453 867h1v1h-1zM474 867h1v1h-1zM636 867h1v2h-1zM715 867h1v1h-1zM832 867h1v2h-1zM452 868h1v2h-1zM475 868h1v2h-1zM498 868h1v2h-1zM693 868h1v1h-1zM702 868h1v1h-1zM716 868h1v1h-1zM448 869h1v1h-1zM637 869h1v1h-1zM688 869h1v3h-1zM694 869h1v1h-1zM701 869h1v2h-1zM717 869h1v1h-1zM831 869h1v2h-1zM449 870h1v1h-1zM451 870h1v1h-1zM476 870h1v2h-1zM497 870h1v1h-1zM638 870h1v1h-1zM695 870h1v1h-1zM718 870h1v2h-1zM450 871h1v1h-1zM639 871h1v1h-1zM696 871h1v2h-1zM700 871h1v1h-1zM830 871h1v2h-1zM477 872h1v1h-1zM494 872h1v1h-1zM640 872h1v2h-1zM687 872h1v3h-1zM699 872h1v2h-1zM719 872h1v1h-1zM478 873h1v2h-1zM493 873h1v1h-1zM697 873h1v1h-1zM720 873h1v1h-1zM829 873h1v2h-1zM641 874h1v1h-1zM698 874h1v1h-1zM721 874h1v1h-1zM479 875h1v1h-1zM490 875h1v1h-1zM686 875h1v3h-1zM722 875h1v1h-1zM828 875h1v2h-1zM480 876h1v2h-1zM487 877h1v1h-1zM725 877h1v1h-1zM821 877h1v1h-1zM827 877h1v2h-1zM481 878h1v2h-1zM659 878h1v2h-1zM685 878h1v3h-1zM770 878h1v1h-1zM769 879h1v2h-1zM793 879h1v1h-1zM482 880h1v1h-1zM660 880h1v2h-1zM730 880h1v1h-1zM746 880h1v1h-1zM792 880h1v1h-1zM826 880h1v1h-1zM684 881h1v3h-1zM768 881h1v3h-1zM779 881h1v1h-1zM791 881h1v1h-1zM661 882h1v1h-1zM733 882h1v1h-1zM743 882h1v1h-1zM749 882h1v1h-1zM790 882h1v1h-1zM662 883h1v2h-1zM782 883h1v1h-1zM789 883h1v1h-1zM683 884h1v3h-1zM767 884h1v3h-1zM783 884h1v1h-1zM788 884h1v1h-1zM663 885h1v1h-1zM738 885h1v1h-1zM754 885h1v1h-1zM787 885h1v1h-1zM664 886h1v2h-1zM755 886h1v2h-1zM786 886h1v1h-1zM682 887h1v2h-1zM766 887h1v2h-1zM665 888h1v2h-1zM756 888h1v2h-1zM681 889h1v2h-1zM765 889h1v3h-1zM666 890h1v1h-1zM757 890h1v1h-1zM667 891h1v1h-1zM680 891h1v1h-1zM758 891h1v2h-1zM668 892h1v1h-1zM679 892h1v1h-1zM764 892h1v3h-1zM669 893h1v1h-1zM678 893h1v2h-1zM759 893h1v1h-1zM670 894h1v2h-1zM760 894h1v2h-1zM677 895h1v1h-1zM763 895h1v2h-1zM671 896h1v1h-1zM676 896h1v1h-1zM761 896h1v1h-1zM672 897h1v1h-1zM675 897h1v2h-1zM673 898h1v1h-1zM762 898h1v1h-1zM674 899h1v1h-1zM1280 806h1v1h-1zM1369 805h1v2h-1zM1281 805h1v1h-1zM1368 804h1v1h-1zM1367 803h1v1h-1zM1366 801h1v2h-1zM1338 801h1v1h-1zM1337 799h1v2h-1zM1339 800h1v1h-1zM1365 800h1v1h-1zM1340 799h1v1h-1zM1364 799h1v1h-1zM1336 797h1v2h-1zM1363 797h1v2h-1zM1314 797h1v1h-1zM1343 797h1v1h-1zM1315 796h1v1h-1zM1335 796h1v1h-1zM1344 796h1v1h-1zM1316 795h1v1h-1zM1334 794h1v2h-1zM1345 795h1v1h-1zM1319 793h1v1h-1zM1333 793h1v1h-1zM1320 792h1v1h-1zM1332 791h1v2h-1zM1321 791h1v1h-1zM1331 789h1v2h-1z" fill="#1e90ff"/>
<rect x="1633" y="50" width="2" height="1" fill="#000"/>
<rect x="1633" y="83" width="2" height="1" fill="#000"/>
<rect x="1633" y="116" width="2" height="1" fill="#000"/>
<rect x="1633" y="149" width="2" height="1" fill="#000"/>
<rect x="1633" y="182" width="2" height="1" fill="#000"/>
<rect x="1633" y="215" width="2" height="1" fill="#000"/>
<rect x="1633" y="248" width="2" height="1" fill="#000"/>
<rect x="1633" y="281" width="2" height="1" fill="#000"/>
<rect x="1633" y="314" width="2" height="1" fill="#000"/>
<rect x="1633" y="347" width="2" height="1" fill="#000"/>
<rect x="1633" y="380" width="2" height="1" fill="#000"/>
<rect x="1633" y="413" width="2" height="1" fill="#000"/>
<rect x="1633" y="446" width="2" height="1" fill="#000"/>
<rect x="1633" y="479" width="2" height="1" fill="#000"/>
<rect x="1633" y="512" width="2" height="1" fill="#000"/>
<rect x="1633" y="545" width="2" height="1" fill="#000"/>
<rect x="1633" y="578" width="2" height="1" fill="#000"/>
<rect x="1633" y="645" width="2" height="1" fill="#000"/>
<rect x="58" y="930" width="1" height="3" fill="#000"/>
<rect x="122" y="930" width="1" height="3" fill="#000"/>
<rect x="186" y="930" width="1" height="3" fill="#000"/>
<rect x="250" y="930" width="1" height="3" fill="#000"/>
<rect x="314" y="930" width="1" height="3" fill="#000"/>
<rect x="378" y="930" width="1" height="3" fill="#000"/>
<rect x="442" y="930" width="1" height="3" fill="#000"/>
<rect x="506" y="930" width="1" height="3" fill="#000"/>
<rect x="570" y="930" width="1" height="3" fill="#000"/>
<rect x="634" y="930" width="1" height="3" fill="#000"/>
<rect x="698" y="930" width="1" height="3" fill="#000"/>
<rect x="762" y="930" width="1" height="3" fill="#000"/>
<rect x="826" y="930" width="1" height="3" fill="#000"/>
<rect x="890" y="930" width="1" height="3" fill="#000"/>
<rect x="954" y="930" width="1" height="3" fill="#000"/>
<rect x="1018" y="930" width="1" height="3" fill="#000"/>
<rect x="1082" y="930" width="1" height="3" fill="#000"/>
<rect x="1146" y="930" width="1" height="3" fill="#000"/>
<rect x="1210" y="930" width="1" height="3" fill="#000"/>
<rect x="1274" y="930" width="1" height="3" fill="#000"/>
<rect x="1338" y="930" width="1" height="3" fill="#000"/>
<polygon points="1397,29 1406,29 1401.5,34" fill="#c0c0c0" shape-rendering="auto"/>
<polygon points="0,35 4,39 0,39" fill="#000"/>
</svg>
<div id="tb"><div class="ln"></div>
<svg width="1679" height="26" viewBox="0 0 1679 26" style="position:absolute;left:0;top:0">
<defs><linearGradient id="gold" x1="0" y1="0" x2="1" y2="1"><stop offset="0" stop-color="#ffe680"/><stop offset="0.5" stop-color="#e0a820"/><stop offset="1" stop-color="#a87010"/></linearGradient><linearGradient id="grn" x1="0" y1="0" x2="0" y2="1"><stop offset="0" stop-color="#5ee05e"/><stop offset="1" stop-color="#0a9a0a"/></linearGradient><radialGradient id="lens" cx="0.4" cy="0.4" r="0.7"><stop offset="0" stop-color="#ffffff"/><stop offset="1" stop-color="#a8d0f0"/></radialGradient><linearGradient id="blu" x1="0" y1="0" x2="0" y2="1"><stop offset="0" stop-color="#5aa0f0"/><stop offset="1" stop-color="#1c50c0"/></linearGradient><linearGradient id="gsq" x1="0" y1="0" x2="0" y2="1"><stop offset="0" stop-color="#60c040"/><stop offset="1" stop-color="#2a8a18"/></linearGradient><pattern id="dith" width="2" height="2" patternUnits="userSpaceOnUse"><rect width="2" height="2" fill="#ffffff"/><rect width="1" height="1" fill="#e4e4e4"/><rect x="1" y="1" width="1" height="1" fill="#e4e4e4"/></pattern></defs>
<path d="M3.5 4.5h8l3 3v11h-11z" fill="#fdfdfd" stroke="#8c8c8c"/><path d="M11.5 4.5v3h3" fill="#e8e8e8" stroke="#8c8c8c"/>
<g stroke="#9a9a9a" stroke-width="1"><line x1="5" y1="7.5" x2="9" y2="7.5"/><line x1="5" y1="10.5" x2="10" y2="10.5"/><line x1="5" y1="12.5" x2="9" y2="12.5"/></g>
<path d="M11.5 10h4v3.5h3.5v4h-3.5v3.5h-4v-3.5h-3.5v-4h3.5z" fill="url(#grn)" stroke="#0a7a0a" stroke-width="0.8"/>
<text x="21.5" y="15.8" font-size="12.4" fill="#000" font-weight="500" font-family="Liberation Sans, Noto Sans CJK SC, sans-serif">新订单</text>
<path d="M70.2 14.2l1 2.200 7 4.300 7.800-6.700-.300-1.800-7.300 6z" fill="#a8741a" stroke="#8c5c10" stroke-width="0.600"/>
<path d="M70.200 14l5.800-8.600q.600-.800 1.600-.200l8.200 6.800-7.600 6.800z" fill="url(#gold)" stroke="#b88418" stroke-width="0.700"/>
<path d="M72.500 13.500l4.500-6.500" stroke="#fff6c0" stroke-width="1.200" opacity="0.700" fill="none"/>
<path d="M100 6.500l5-2.500 6 1.200v8.500h-11z" fill="#2a94f0"/><path d="M100 6.500l5-2.500v9h-5z" fill="#1c70d8"/><path d="M105.500 8.500l4.500-.700M105.500 10.500l4.500-.500" stroke="#e8f6ff" stroke-width="1" fill="none"/>
<path d="M100.800 18.600a3 3 0 0 1 0.300-5.900 3.500 3.500 0 0 1 6.400-1.100 3 3 0 0 1 4 2.300 2.400 2.400 0 0 1 -0.400 4.700z" fill="#eef2fa" stroke="#6c88bc" stroke-width="1"/><path d="M100.500 18.300h11" stroke="#8ca0c8" stroke-width="1.300"/>
<circle cx="134" cy="12" r="7.6" fill="none" stroke="#9ab8e0" stroke-width="1.2"/><circle cx="134" cy="12" r="5" fill="none" stroke="#6a9ad8" stroke-width="1.2"/><path d="M134 12v8a8 8 0 0 0 8-8" fill="#8cc88c" opacity="0.8"/><circle cx="134" cy="12" r="2.2" fill="#3060d0"/><rect x="133.3" y="12" width="1.6" height="8" fill="#20a020"/>
<path d="M154 11l15 0l-6 8.5l-3 0z" fill="#f4d040" stroke="#c89820" stroke-width="0.8"/><ellipse cx="161.5" cy="8.5" rx="8" ry="2.8" fill="#4c98d4"/><ellipse cx="161.5" cy="6.5" rx="4.5" ry="2.8" fill="#6cb4e8"/>
<circle cx="165.5" cy="15.5" r="4.3" fill="#d82010"/><rect x="163.7" y="13.7" width="3.6" height="3.6" fill="#fff"/>
<text x="173.5" y="15.8" font-size="12.2" fill="#000" font-weight="500" font-family="Liberation Sans, Noto Sans CJK SC, sans-serif">自动交易</text>
<rect x="229" y="0" width="1" height="24" fill="#a0a0a0" shape-rendering="crispEdges"/><rect x="230" y="0" width="1" height="24" fill="#ffffff" shape-rendering="crispEdges"/>
<rect x="233" y="2" width="3" height="1" fill="#a0a0a0" shape-rendering="crispEdges"/>
<rect x="233" y="4" width="3" height="1" fill="#a0a0a0" shape-rendering="crispEdges"/>
<rect x="233" y="6" width="3" height="1" fill="#a0a0a0" shape-rendering="crispEdges"/>
<rect x="233" y="8" width="3" height="1" fill="#a0a0a0" shape-rendering="crispEdges"/>
<rect x="233" y="10" width="3" height="1" fill="#a0a0a0" shape-rendering="crispEdges"/>
<rect x="233" y="12" width="3" height="1" fill="#a0a0a0" shape-rendering="crispEdges"/>
<rect x="233" y="14" width="3" height="1" fill="#a0a0a0" shape-rendering="crispEdges"/>
<rect x="233" y="16" width="3" height="1" fill="#a0a0a0" shape-rendering="crispEdges"/>
<rect x="233" y="18" width="3" height="1" fill="#a0a0a0" shape-rendering="crispEdges"/>
<rect x="233" y="20" width="3" height="1" fill="#a0a0a0" shape-rendering="crispEdges"/>
<g stroke="#585858" stroke-width="1" fill="none" shape-rendering="crispEdges"><line x1="247.5" y1="6" x2="247.5" y2="20"/><line x1="245" y1="17.5" x2="259" y2="17.5"/></g>
<polygon points="247.5,5 245.5,8 249.5,8" fill="#585858"/><polygon points="260,17.5 257,15.5 257,19.5" fill="#585858"/>
<path d="M251.5 15.5h2v-7.5h2.5" fill="none" stroke="#209020" stroke-width="1.2"/>
<rect x="267" y="0" width="25" height="22" fill="url(#dith)" shape-rendering="crispEdges"/>
<rect x="267" y="0" width="25" height="1" fill="#a0a0a0" shape-rendering="crispEdges"/><rect x="267" y="0" width="1" height="22" fill="#a0a0a0" shape-rendering="crispEdges"/>
<g stroke="#585858" stroke-width="1" fill="none" shape-rendering="crispEdges"><line x1="275.5" y1="6" x2="275.5" y2="20"/><line x1="273" y1="17.5" x2="287" y2="17.5"/></g>
<polygon points="275.5,5 273.5,8 277.5,8" fill="#585858"/><polygon points="288,17.5 285,15.5 285,19.5" fill="#585858"/>
<rect x="279.5" y="6.5" width="4" height="7" fill="#40d040" stroke="#108010" stroke-width="1"/><line x1="281.5" y1="4" x2="281.5" y2="16" stroke="#108010" stroke-width="1"/><rect x="280" y="7" width="3" height="6" fill="#40d040"/>
<g stroke="#585858" stroke-width="1" fill="none" shape-rendering="crispEdges"><line x1="303.5" y1="6" x2="303.5" y2="20"/><line x1="301" y1="17.5" x2="315" y2="17.5"/></g>
<polygon points="303.5,5 301.5,8 305.5,8" fill="#585858"/><polygon points="316,17.5 313,15.5 313,19.5" fill="#585858"/>
<path d="M302 15c3-3 5-6 7-6s3 3 6 4.5" fill="none" stroke="#209020" stroke-width="1.2"/>
<rect x="324" y="1" width="1" height="21" fill="#a0a0a0" shape-rendering="crispEdges"/>
<line x1="343" y1="14" x2="348" y2="19" stroke="#c8a020" stroke-width="3" stroke-linecap="round"/>
<circle cx="339" cy="10" r="5.3" fill="url(#lens)" stroke="#4c8cc8" stroke-width="1.2"/>
<rect x="336" y="9.2" width="6" height="1.6" fill="#3c78b4"/>
<rect x="338.2" y="7" width="1.6" height="6" fill="#3c78b4"/>
<line x1="371" y1="14" x2="376" y2="19" stroke="#c8a020" stroke-width="3" stroke-linecap="round"/>
<circle cx="367" cy="10" r="5.3" fill="url(#lens)" stroke="#4c8cc8" stroke-width="1.2"/>
<rect x="364" y="9.2" width="6" height="1.6" fill="#3c78b4"/>
<rect x="389" y="4" width="8" height="8" fill="url(#gsq)"/><rect x="397" y="4" width="8" height="8" fill="url(#blu)"/><rect x="389" y="12" width="8" height="8" fill="url(#blu)"/><rect x="397" y="12" width="8" height="8" fill="url(#gsq)"/>
<rect x="390" y="7" width="6" height="1.5" fill="#fff"/><rect x="390" y="9.5" width="6" height="1.5" fill="#fff" opacity="0.9"/>
<rect x="398" y="7" width="6" height="1.5" fill="#fff"/><rect x="398" y="9.5" width="6" height="1.5" fill="#fff" opacity="0.9"/>
<rect x="390" y="15" width="6" height="1.5" fill="#fff"/><rect x="390" y="17.5" width="6" height="1.5" fill="#fff" opacity="0.9"/>
<rect x="398" y="15" width="6" height="1.5" fill="#fff"/><rect x="398" y="17.5" width="6" height="1.5" fill="#fff" opacity="0.9"/>
<rect x="414" y="1" width="1" height="21" fill="#a0a0a0" shape-rendering="crispEdges"/>
<rect x="419" y="0" width="25" height="22" fill="url(#dith)" shape-rendering="crispEdges"/>
<rect x="419" y="0" width="25" height="1" fill="#a0a0a0" shape-rendering="crispEdges"/><rect x="419" y="0" width="1" height="22" fill="#a0a0a0" shape-rendering="crispEdges"/>
<g stroke="#585858" stroke-width="1" fill="none" shape-rendering="crispEdges"><line x1="427.5" y1="6" x2="427.5" y2="20"/><line x1="425" y1="17.5" x2="439" y2="17.5"/></g>
<polygon points="427.5,5 425.5,8 429.5,8" fill="#585858"/><polygon points="440,17.5 437,15.5 437,19.5" fill="#585858"/>
<polygon points="432,8 432,15 436,11.5" fill="#30c030" stroke="#108010" stroke-width="0.8"/>
<rect x="447" y="0" width="25" height="22" fill="url(#dith)" shape-rendering="crispEdges"/>
<rect x="447" y="0" width="25" height="1" fill="#a0a0a0" shape-rendering="crispEdges"/><rect x="447" y="0" width="1" height="22" fill="#a0a0a0" shape-rendering="crispEdges"/>
<g stroke="#585858" stroke-width="1" fill="none" shape-rendering="crispEdges"><line x1="455.5" y1="6" x2="455.5" y2="20"/><line x1="453" y1="17.5" x2="467" y2="17.5"/></g>
<polygon points="455.5,5 453.5,8 457.5,8" fill="#585858"/><polygon points="468,17.5 465,15.5 465,19.5" fill="#585858"/>
<line x1="461.5" y1="6" x2="461.5" y2="16" stroke="#2060b0" stroke-width="1.2"/><path d="M467 11.5h-4M465 9.5l-2.5 2 2.5 2" fill="none" stroke="#d04010" stroke-width="1.2"/>
<rect x="476" y="1" width="1" height="21" fill="#a0a0a0" shape-rendering="crispEdges"/>
<path d="M487.5 4.5h7l3 3v10h-10z" fill="#fdfdfd" stroke="#8c8c8c"/><text x="488.5" y="14" font-size="9" font-style="italic" font-family="Liberation Serif, serif" fill="#444">f</text>
<path d="M494.5 10h4v3.5h3.5v4h-3.5v3.5h-4v-3.5h-3.5v-4h3.5z" fill="url(#grn)" stroke="#0a7a0a" stroke-width="0.8"/>
<polygon points="508,11 513,11 510.5,14" fill="#000"/>
<circle cx="532" cy="12" r="7.6" fill="#2878d8" stroke="#1450a8" stroke-width="0.8"/><circle cx="532" cy="12" r="5.3" fill="#f4f8ff"/><path d="M532 8.5v3.5h3" fill="none" stroke="#333" stroke-width="1"/>
<polygon points="547,11 552,11 549.5,14" fill="#000"/>
<rect x="563.5" y="5.5" width="15" height="13" fill="#fff" stroke="#3c78c0" stroke-width="1"/><rect x="563" y="5" width="16" height="2.5" fill="#5a9ae0"/><line x1="563" y1="13" x2="579" y2="13" stroke="#3c78c0" stroke-width="0.8"/>
<path d="M565 11l3-1 2 .5 3-1.5 3 1 2-1" fill="none" stroke="#a02010" stroke-width="1.2"/><path d="M566 16.5l3-.5 2-1.5 3-1 3 2.5" fill="none" stroke="#209020" stroke-width="1.2"/>
<polygon points="586,11 591,11 588.5,14" fill="#000"/>
<rect x="597" y="0" width="1" height="24" fill="#a0a0a0" shape-rendering="crispEdges"/><rect x="598" y="0" width="1" height="24" fill="#ffffff" shape-rendering="crispEdges"/>
<rect x="601" y="2" width="3" height="1" fill="#a0a0a0" shape-rendering="crispEdges"/>
<rect x="601" y="4" width="3" height="1" fill="#a0a0a0" shape-rendering="crispEdges"/>
<rect x="601" y="6" width="3" height="1" fill="#a0a0a0" shape-rendering="crispEdges"/>
<rect x="601" y="8" width="3" height="1" fill="#a0a0a0" shape-rendering="crispEdges"/>
<rect x="601" y="10" width="3" height="1" fill="#a0a0a0" shape-rendering="crispEdges"/>
<rect x="601" y="12" width="3" height="1" fill="#a0a0a0" shape-rendering="crispEdges"/>
<rect x="601" y="14" width="3" height="1" fill="#a0a0a0" shape-rendering="crispEdges"/>
<rect x="601" y="16" width="3" height="1" fill="#a0a0a0" shape-rendering="crispEdges"/>
<rect x="601" y="18" width="3" height="1" fill="#a0a0a0" shape-rendering="crispEdges"/>
<rect x="601" y="20" width="3" height="1" fill="#a0a0a0" shape-rendering="crispEdges"/>
<rect x="607" y="0" width="25" height="22" fill="url(#dith)" shape-rendering="crispEdges"/>
<rect x="607" y="0" width="25" height="1" fill="#a0a0a0" shape-rendering="crispEdges"/><rect x="607" y="0" width="1" height="22" fill="#a0a0a0" shape-rendering="crispEdges"/>
<polygon points="615,5 615,17 618,14.5 620.3,19 622,18.2 619.8,13.8 623.5,13.5" fill="#484848"/>
<g stroke="#505050" stroke-width="1" shape-rendering="crispEdges"><line x1="640" y1="12.5" x2="655" y2="12.5"/><line x1="647.5" y1="5" x2="647.5" y2="20"/></g>
<rect x="664" y="1" width="1" height="21" fill="#a0a0a0" shape-rendering="crispEdges"/>
<g stroke="#505050" stroke-width="1.2"><line x1="681.5" y1="6" x2="681.5" y2="19"/><line x1="704" y1="12.5" x2="716" y2="12.5"/><line x1="732" y1="18.8" x2="744" y2="6.8"/></g>
<g stroke="#505050" stroke-width="1"><line x1="758" y1="14.5" x2="770" y2="5"/><line x1="760" y1="18.5" x2="772" y2="9"/><line x1="760" y1="11" x2="762" y2="18"/><line x1="764" y1="8" x2="766" y2="15"/><line x1="768" y1="5" x2="770" y2="12"/></g>
<text x="768.5" y="21" font-size="7.5" font-weight="bold" fill="#404040" font-family="Liberation Sans, sans-serif">E</text>
<line x1="787" y1="5.5" x2="801" y2="5.5" stroke="#505050" stroke-width="1" stroke-dasharray="1 1" shape-rendering="crispEdges"/>
<line x1="787" y1="8.5" x2="801" y2="8.5" stroke="#505050" stroke-width="1" stroke-dasharray="1 1" shape-rendering="crispEdges"/>
<line x1="787" y1="12.5" x2="801" y2="12.5" stroke="#505050" stroke-width="1" stroke-dasharray="1 1" shape-rendering="crispEdges"/>
<line x1="787" y1="16.5" x2="796" y2="16.5" stroke="#505050" stroke-width="1" stroke-dasharray="1 1" shape-rendering="crispEdges"/>
<text x="796.5" y="21" font-size="7.5" font-weight="bold" fill="#404040" font-family="Liberation Sans, sans-serif">F</text>
<text x="817" y="17" font-size="12.5" font-weight="bold" fill="#606060" font-family="Liberation Sans, sans-serif">A</text>
<rect x="843.5" y="5.5" width="12" height="13" fill="none" stroke="#505050" stroke-width="1" stroke-dasharray="1 1" shape-rendering="crispEdges"/><text x="845.2" y="17" font-size="12" font-weight="bold" fill="#505050" font-family="Liberation Sans, sans-serif">T</text>
<polygon points="871,10 874.5,6 878,10" fill="#484848"/><polygon points="878,15.5 881.5,19 885,15.5" fill="#484848"/><path d="M873.5 13.5l2.5 2.5 4-5" fill="none" stroke="#484848" stroke-width="1.3"/>
<polygon points="892,11 897,11 894.5,14" fill="#000"/>
<rect x="903" y="0" width="1" height="24" fill="#a0a0a0" shape-rendering="crispEdges"/><rect x="904" y="0" width="1" height="24" fill="#ffffff" shape-rendering="crispEdges"/>
<rect x="907" y="2" width="3" height="1" fill="#a0a0a0" shape-rendering="crispEdges"/>
<rect x="907" y="4" width="3" height="1" fill="#a0a0a0" shape-rendering="crispEdges"/>
<rect x="907" y="6" width="3" height="1" fill="#a0a0a0" shape-rendering="crispEdges"/>
<rect x="907" y="8" width="3" height="1" fill="#a0a0a0" shape-rendering="crispEdges"/>
<rect x="907" y="10" width="3" height="1" fill="#a0a0a0" shape-rendering="crispEdges"/>
<rect x="907" y="12" width="3" height="1" fill="#a0a0a0" shape-rendering="crispEdges"/>
<rect x="907" y="14" width="3" height="1" fill="#a0a0a0" shape-rendering="crispEdges"/>
<rect x="907" y="16" width="3" height="1" fill="#a0a0a0" shape-rendering="crispEdges"/>
<rect x="907" y="18" width="3" height="1" fill="#a0a0a0" shape-rendering="crispEdges"/>
<rect x="907" y="20" width="3" height="1" fill="#a0a0a0" shape-rendering="crispEdges"/>
<rect x="1081" y="0" width="25" height="22" fill="url(#dith)" shape-rendering="crispEdges"/>
<rect x="1081" y="0" width="25" height="1" fill="#a0a0a0" shape-rendering="crispEdges"/><rect x="1081" y="0" width="1" height="22" fill="#a0a0a0" shape-rendering="crispEdges"/>
<text x="918" y="16" font-size="9.8" letter-spacing="-0.1" fill="#303030" font-family="Liberation Sans, sans-serif">M1</text>
<text x="946" y="16" font-size="9.8" letter-spacing="-0.1" fill="#303030" font-family="Liberation Sans, sans-serif">M5</text>
<text x="972" y="16" font-size="9.8" letter-spacing="-0.1" fill="#303030" font-family="Liberation Sans, sans-serif">M15</text>
<text x="1000" y="16" font-size="9.8" letter-spacing="-0.1" fill="#303030" font-family="Liberation Sans, sans-serif">M30</text>
<text x="1031" y="16" font-size="9.8" letter-spacing="-0.1" fill="#303030" font-family="Liberation Sans, sans-serif">H1</text>
<text x="1058" y="16" font-size="9.8" letter-spacing="-0.1" fill="#303030" font-family="Liberation Sans, sans-serif">H4</text>
<text x="1087" y="16" font-size="9.8" letter-spacing="-0.1" fill="#303030" font-family="Liberation Sans, sans-serif">D1</text>
<text x="1114.5" y="16" font-size="9.8" letter-spacing="-0.1" fill="#303030" font-family="Liberation Sans, sans-serif">W1</text>
<text x="1141" y="16" font-size="9.8" letter-spacing="-0.1" fill="#303030" font-family="Liberation Sans, sans-serif">MN</text>
<rect x="1164" y="0" width="1" height="24" fill="#a0a0a0" shape-rendering="crispEdges"/><rect x="1165" y="0" width="1" height="24" fill="#ffffff" shape-rendering="crispEdges"/>
<line x1="1627.5" y1="16.5" x2="1631.3" y2="12.8" stroke="#2456cc" stroke-width="2.4" stroke-linecap="round"/><circle cx="1634.5" cy="9.5" r="3.9" fill="#f6f8ff" stroke="#2a5cd4" stroke-width="1.4"/>
<path d="M1669 13.5l1 2.5-3-2.5z" fill="#808080"/><ellipse cx="1667" cy="9" rx="6.3" ry="4.6" fill="#f4f4f8" stroke="#a0a0a0" stroke-width="1"/><ellipse cx="1667" cy="10.5" rx="4" ry="2" fill="#dcdce8" opacity="0.7"/>
<path d="M1656 15.500l-.5 3 3-2.500z" fill="#808080"/><ellipse cx="1658.2" cy="12.600" rx="5" ry="3.700" fill="#f8f8fa" stroke="#9c9c9c" stroke-width="1"/><ellipse cx="1658.2" cy="13.800" rx="3" ry="1.600" fill="#dcdce8" opacity="0.7"/>
</svg></div>
<div class="ax" style="left:1638px;top:46px">24187.0</div>
<div class="ax" style="left:1638px;top:79px">23643.0</div>
<div class="ax" style="left:1638px;top:112px">23115.0</div>
<div class="ax" style="left:1638px;top:145px">22587.0</div>
<div class="ax" style="left:1638px;top:178px">22059.0</div>
<div class="ax" style="left:1638px;top:211px">21531.0</div>
<div class="ax" style="left:1638px;top:244px">20987.0</div>
<div class="ax" style="left:1638px;top:277px">20459.0</div>
<div class="ax" style="left:1638px;top:310px">19931.0</div>
<div class="ax" style="left:1638px;top:343px">19403.0</div>
<div class="ax" style="left:1638px;top:376px">18875.0</div>
<div class="ax" style="left:1638px;top:409px">18331.0</div>
<div class="ax" style="left:1638px;top:442px">17803.0</div>
<div class="ax" style="left:1638px;top:475px">17275.0</div>
<div class="ax" style="left:1638px;top:508px">16747.0</div>
<div class="ax" style="left:1638px;top:541px">16219.0</div>
<div class="ax" style="left:1638px;top:574px">15691.0</div>
<div class="ax" style="left:1636px;top:586px">931.89</div>
<div class="ax" style="left:1636px;top:641px">0.00</div>
<div class="ax" style="left:1636px;top:742px">-1667.31</div>
<div class="ax" style="left:1636px;top:758px">100</div>
<div class="ax" style="left:1635px;top:787px">80</div>
<div class="ax" style="left:1635px;top:838px">50</div>
<div class="ax" style="left:1635px;top:899px">15</div>
<div class="ax" style="left:1635px;top:918px">0</div>
<div class="ax" style="left:-7px;top:934px;transform:scaleX(0.925)">21 Nov 2019</div>
<div class="ax" style="left:57px;top:934px;transform:scaleX(0.925)">1 Dec 2019</div>
<div class="ax" style="left:121px;top:934px;transform:scaleX(0.925)">10 Dec 2019</div>
<div class="ax" style="left:185px;top:934px;transform:scaleX(0.925)">19 Dec 2019</div>
<div class="ax" style="left:249px;top:934px;transform:scaleX(0.925)">29 Dec 2019</div>
<div class="ax" style="left:313px;top:934px;transform:scaleX(0.925)">7 Jan 2020</div>
<div class="ax" style="left:377px;top:934px;transform:scaleX(0.925)">16 Jan 2020</div>
<div class="ax" style="left:441px;top:934px;transform:scaleX(0.925)">26 Jan 2020</div>
<div class="ax" style="left:505px;top:934px;transform:scaleX(0.925)">4 Feb 2020</div>
<div class="ax" style="left:569px;top:934px;transform:scaleX(0.925)">13 Feb 2020</div>
<div class="ax" style="left:633px;top:934px;transform:scaleX(0.925)">23 Feb 2020</div>
<div class="ax" style="left:697px;top:934px;transform:scaleX(0.925)">3 Mar 2020</div>
<div class="ax" style="left:761px;top:934px;transform:scaleX(0.925)">12 Mar 2020</div>
<div class="ax" style="left:825px;top:934px;transform:scaleX(0.925)">22 Mar 2020</div>
<div class="ax" style="left:889px;top:934px;transform:scaleX(0.925)">31 Mar 2020</div>
<div class="ax" style="left:953px;top:934px;transform:scaleX(0.925)">9 Apr 2020</div>
<div class="ax" style="left:1017px;top:934px;transform:scaleX(0.925)">19 Apr 2020</div>
<div class="ax" style="left:1081px;top:934px;transform:scaleX(0.925)">28 Apr 2020</div>
<div class="ax" style="left:1145px;top:934px;transform:scaleX(0.925)">7 May 2020</div>
<div class="ax" style="left:1209px;top:934px;transform:scaleX(0.925)">17 May 2020</div>
<div class="ax" style="left:1273px;top:934px;transform:scaleX(0.925)">26 May 2020</div>
<div class="ax" style="left:1337px;top:934px;transform:scaleX(0.925)">4 Jun 2020</div>
<div class="tag" style="top:137px;background:#ff0000"><span>22678.8</span></div>
<div class="tag" style="top:162px;background:#ff0000"><span>22277.2</span></div>
<div class="tag" style="top:183px;background:#32cd32"><span>21939.9</span></div>
<div class="tag" style="top:203px;background:#000000"><span>21637.5</span></div>
<div class="tag" style="top:231px;background:#0000ff"><span>21168.8</span></div>
<div class="tag" style="top:256px;background:#0000ff"><span>20767.2</span></div>
<div id="ttl" style="position:absolute;left:0;top:32px;width:220px;height:12px"><span class="t" style="left:8.6px;top:0">JPN225-,Daily </span><span class="t" style="left:74.6px;top:0"> 22702.5 </span><span class="t" style="left:110.8px;top:0">22862.5 </span><span class="t" style="left:147.1px;top:0">21547.5 </span><span class="t" style="left:183px;top:0">21637.5</span></div>
<div class="t" style="left:-1px;top:588px;" id="tmacd">MACD(12,26,9) 625.41 740.33</div>
<div class="t" style="left:-1px;top:760px;" id="trsi">RSI(14) 49.1354</div>
<div id="cnlab" style="position:absolute;left:1421.5px;top:109.5px;font-size:33px;line-height:40px;white-space:nowrap;color:#00ff00;font-weight:500;font-family:'Liberation Serif','Noto Serif CJK SC',serif;text-shadow:1px 1px 0 #000;">多空转折点</div>
<div id="plab" style="position:absolute;left:1453px;top:177px;width:72px;height:23px;border:1px solid #ff0000;background:#fff;color:#ff0000;font-size:20px;line-height:24px;text-align:center;white-space:nowrap;letter-spacing:0;">21939.9</div>
<div style="position:absolute;left:1443px;top:189px;width:7px;height:1px;background:#ff0000"></div>
<div style="position:absolute;left:1449px;top:188px;width:1px;height:1px;border:1px solid #ff0000;background:#fff"></div>
<div id="panel" style="position:absolute;left:0;top:46px;width:218px;height:68px;background:#fff;">
<div style="position:absolute;left:0;top:2px;width:48px;height:24px;border-top:1px solid #b40000;border-right:1px solid #b40000;box-sizing:content-box;background:linear-gradient(#ff5252,#e23232);"></div>
<div style="position:absolute;left:164px;top:2px;width:52px;height:24px;border-top:1px solid #b40000;border-left:1px solid #b40000;border-right:1px solid #b40000;box-sizing:border-box;background:linear-gradient(#ff5252,#e23232);"></div>
<div style="position:absolute;left:0;top:26px;width:106px;height:40px;border-right:1px solid #b40000;box-sizing:border-box;background:linear-gradient(#e43434 0%,#cc1c1c 45%,#b00000 100%);"></div>
<div style="position:absolute;left:108px;top:26px;width:108px;height:40px;border-left:1px solid #b40000;border-right:1px solid #b40000;box-sizing:border-box;background:linear-gradient(#e43434 0%,#cc1c1c 45%,#b00000 100%);"></div>
<div style="position:absolute;left:49px;top:25px;width:116px;height:1px;background:#b40000"></div>
<div style="position:absolute;left:49px;top:2px;width:115px;height:23px;background:#fff"></div>
<div style="position:absolute;left:1px;top:25px;width:44px;height:1px;background:#8c0000"></div>
<div style="position:absolute;left:1px;top:26px;width:44px;height:1px;background:#ff7070"></div>
<div style="position:absolute;left:168px;top:25px;width:44px;height:1px;background:#8c0000"></div>
<div style="position:absolute;left:168px;top:26px;width:44px;height:1px;background:#ff7070"></div>
<div style="position:absolute;left:0;top:7.3px;width:45px;text-align:center;color:#fff;font-size:12px;line-height:14px;transform:scaleX(0.92);transform-origin:22.3px 0;">SELL</div>
<div style="position:absolute;left:164px;top:7.3px;width:50px;text-align:center;color:#fff;font-size:12.3px;line-height:14px;">BUY</div>
<div style="position:absolute;left:51px;top:2px;width:111px;height:22px;border:1px solid #a6a8b4;box-sizing:border-box;background:#fff;"></div>
<div style="position:absolute;left:52px;top:3px;width:20px;height:20px;border-right:1px solid #a6a8b4;box-sizing:border-box;background:linear-gradient(#f2f2f2 0%,#e8e8e8 40%,#d4d4d4 45%,#d0d0d0 100%);"></div>
<div style="position:absolute;left:141px;top:3px;width:20px;height:20px;border-left:1px solid #a6a8b4;box-sizing:border-box;background:linear-gradient(#f2f2f2 0%,#e8e8e8 40%,#d4d4d4 45%,#d0d0d0 100%);"></div>
<svg style="position:absolute;left:52px;top:3px" width="110" height="20"><polygon points="7,8 12,8 9.5,11" fill="#5a64c4"/><polygon points="96,11 101,11 98.5,8" fill="#5a64c4"/></svg>
<div style="position:absolute;left:72px;top:6px;width:65px;text-align:right;color:#000;font-size:12px;line-height:14px;">1.00</div>
<div style="position:absolute;left:12.5px;top:46px;color:#fff;font-weight:bold;font-size:12.3px;line-height:14px;white-space:nowrap;letter-spacing:0.5px">21636</div>
<div style="position:absolute;left:122.5px;top:46px;color:#fff;font-weight:bold;font-size:12.3px;line-height:14px;white-space:nowrap;letter-spacing:0.5px">21659</div>
<div style="position:absolute;left:51.1px;top:32px;color:#fff;font-weight:bold;font-family:'Liberation Serif',serif;font-size:30px;line-height:30px;white-space:nowrap;">.</div>
<div style="position:absolute;left:161.6px;top:32px;color:#fff;font-weight:bold;font-family:'Liberation Serif',serif;font-size:30px;line-height:30px;white-space:nowrap;">.</div>
<div style="position:absolute;left:58px;top:25.5px;color:#fff;font-family:'Liberation Serif',serif;font-size:37px;line-height:40px;white-space:nowrap;" id="big0a">0</div>
<div style="position:absolute;left:168.7px;top:25.5px;color:#fff;font-family:'Liberation Serif',serif;font-size:37px;line-height:40px;white-space:nowrap;" id="big0b">0</div>
</div>

</body></html>
